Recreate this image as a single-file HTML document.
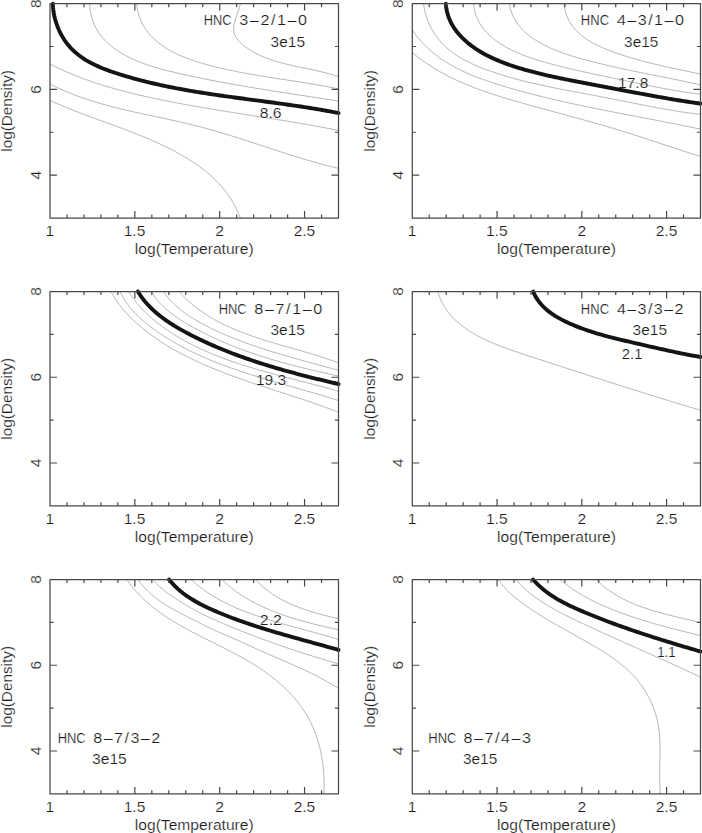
<!DOCTYPE html><html><head><meta charset="utf-8"><style>html,body{margin:0;padding:0;background:#fff;}svg{display:block;}text{font-family:"Liberation Sans",sans-serif;fill:#1c1c1c;stroke:#fff;stroke-width:0.18px;}</style></head><body>
<svg width="702" height="833" viewBox="0 0 702 833">
<rect width="702" height="833" fill="#fff"/>
<g fill="none" stroke-linecap="round" stroke-linejoin="round">
<path d="M89.67,3.60 L89.68,4.18 L89.78,6.35 L89.96,8.49 L90.23,10.59 L90.57,12.65 L90.99,14.68 L91.48,16.68 L92.04,18.63 L92.67,20.55 L93.37,22.43 L94.13,24.26 L94.96,26.06 L95.85,27.82 L96.80,29.53 L97.81,31.20 L98.87,32.84 L99.98,34.42 L101.15,35.97 L102.37,37.47 L103.64,38.93 L104.95,40.35 L106.31,41.73 L107.71,43.07 L109.14,44.37 L110.62,45.63 L112.13,46.85 L113.68,48.04 L115.26,49.19 L116.87,50.31 L118.51,51.40 L120.17,52.45 L121.86,53.47 L123.57,54.46 L125.31,55.41 L127.06,56.34 L128.83,57.24 L130.62,58.12 L132.43,58.96 L134.25,59.79 L136.09,60.58 L137.95,61.35 L139.82,62.10 L141.70,62.83 L143.60,63.53 L145.51,64.22 L147.43,64.88 L149.37,65.53 L151.31,66.15 L153.26,66.76 L155.22,67.35 L157.19,67.93 L159.17,68.49 L161.15,69.04 L163.14,69.57 L165.13,70.10 L167.13,70.61 L169.13,71.11 L171.13,71.60 L173.14,72.08 L175.14,72.55 L177.15,73.02 L179.16,73.47 L181.16,73.93 L183.16,74.38 L185.17,74.82 L187.16,75.26 L189.16,75.69 L191.16,76.12 L193.15,76.55 L195.14,76.97 L197.13,77.38 L199.12,77.80 L201.11,78.21 L203.10,78.61 L205.08,79.01 L207.07,79.41 L209.05,79.80 L211.03,80.19 L213.01,80.57 L214.99,80.96 L216.96,81.33 L218.94,81.71 L220.92,82.08 L222.89,82.45 L224.87,82.81 L226.84,83.18 L228.81,83.54 L230.79,83.89 L232.76,84.25 L234.73,84.60 L236.70,84.94 L238.67,85.29 L240.64,85.63 L242.61,85.97 L244.58,86.31 L246.55,86.65 L248.52,86.98 L250.49,87.31 L252.46,87.64 L254.43,87.97 L256.40,88.29 L258.37,88.62 L260.34,88.94 L262.31,89.26 L264.28,89.58 L266.25,89.90 L268.22,90.21 L270.19,90.53 L272.17,90.84 L274.14,91.15 L276.11,91.46 L278.09,91.77 L280.06,92.08 L282.04,92.39 L284.02,92.70 L286.00,93.00 L287.98,93.31 L289.96,93.61 L291.94,93.92 L293.92,94.22 L295.91,94.53 L297.89,94.83 L299.88,95.14 L301.87,95.44 L303.86,95.74 L305.85,96.05 L307.85,96.35 L309.84,96.66 L311.84,96.96 L313.84,97.26 L315.84,97.57 L317.84,97.88 L319.85,98.18 L321.85,98.49 L323.86,98.80 L325.87,99.11 L327.89,99.42 L329.90,99.73 L331.92,100.04 L333.94,100.35 L335.96,100.67 L337.99,100.98 L338.50,101.06" stroke="#b5b5b5" stroke-width="1.0"/>
<path d="M136.77,3.60 L136.81,4.25 L137.05,6.45 L137.37,8.60 L137.76,10.70 L138.23,12.75 L138.78,14.74 L139.39,16.69 L140.07,18.59 L140.82,20.44 L141.64,22.24 L142.51,23.99 L143.45,25.70 L144.45,27.36 L145.50,28.98 L146.61,30.56 L147.77,32.09 L148.98,33.58 L150.24,35.03 L151.55,36.44 L152.90,37.81 L154.29,39.15 L155.72,40.44 L157.19,41.70 L158.70,42.92 L160.24,44.10 L161.82,45.25 L163.43,46.37 L165.07,47.46 L166.75,48.51 L168.45,49.53 L170.18,50.52 L171.94,51.48 L173.72,52.41 L175.53,53.31 L177.36,54.19 L179.21,55.04 L181.08,55.86 L182.97,56.66 L184.88,57.43 L186.80,58.18 L188.74,58.91 L190.69,59.62 L192.65,60.30 L194.62,60.97 L196.61,61.61 L198.60,62.24 L200.60,62.85 L202.60,63.45 L204.61,64.02 L206.62,64.59 L208.63,65.13 L210.64,65.67 L212.66,66.19 L214.67,66.70 L216.67,67.20 L218.68,67.68 L220.68,68.16 L222.68,68.62 L224.68,69.08 L226.67,69.52 L228.67,69.95 L230.66,70.38 L232.65,70.79 L234.64,71.20 L236.63,71.60 L238.62,71.99 L240.60,72.38 L242.59,72.75 L244.57,73.12 L246.55,73.48 L248.53,73.84 L250.51,74.19 L252.49,74.54 L254.47,74.88 L256.44,75.21 L258.42,75.54 L260.40,75.87 L262.37,76.19 L264.35,76.51 L266.32,76.82 L268.30,77.13 L270.27,77.44 L272.25,77.75 L274.23,78.05 L276.20,78.36 L278.18,78.66 L280.15,78.96 L282.13,79.26 L284.11,79.56 L286.08,79.86 L288.06,80.16 L290.04,80.46 L292.02,80.77 L294.00,81.07 L295.98,81.38 L297.97,81.68 L299.95,82.00 L301.93,82.31 L303.92,82.62 L305.91,82.94 L307.90,83.27 L309.89,83.60 L311.88,83.93 L313.88,84.26 L315.87,84.61 L317.87,84.95 L319.87,85.31 L321.87,85.67 L323.88,86.03 L325.89,86.41 L327.90,86.79 L329.91,87.17 L331.92,87.57 L333.94,87.97 L335.96,88.38 L337.98,88.80 L338.50,88.91" stroke="#b5b5b5" stroke-width="1.0"/>
<path d="M240.33,3.60 L240.31,3.80 L239.92,5.67 L239.40,7.61 L238.77,9.61 L238.06,11.65 L237.31,13.72 L236.56,15.81 L235.84,17.92 L235.17,20.03 L234.60,22.12 L234.13,24.19 L233.80,26.23 L233.64,28.23 L233.67,30.17 L233.91,32.04 L234.39,33.84 L235.08,35.56 L235.97,37.21 L237.03,38.79 L238.23,40.31 L239.57,41.76 L241.00,43.15 L242.52,44.49 L244.09,45.77 L245.70,46.99 L247.33,48.17 L249.00,49.30 L250.69,50.38 L252.40,51.42 L254.14,52.41 L255.91,53.37 L257.70,54.28 L259.51,55.15 L261.34,55.98 L263.19,56.78 L265.06,57.55 L266.94,58.28 L268.85,58.99 L270.76,59.66 L272.70,60.30 L274.64,60.92 L276.60,61.52 L278.58,62.09 L280.56,62.64 L282.55,63.17 L284.55,63.69 L286.56,64.18 L288.57,64.67 L290.59,65.13 L292.62,65.59 L294.65,66.04 L296.68,66.48 L298.71,66.91 L300.75,67.34 L302.78,67.76 L304.81,68.18 L306.84,68.60 L308.87,69.02 L310.89,69.45 L312.90,69.87 L314.91,70.31 L316.91,70.75 L318.91,71.20 L320.89,71.66 L322.86,72.14 L324.82,72.63 L326.77,73.13 L328.71,73.65 L330.63,74.19 L332.53,74.75 L334.42,75.33 L336.29,75.94 L338.15,76.57 L338.50,76.69" stroke="#b5b5b5" stroke-width="1.0"/>
<path d="M50.00,64.09 L51.61,64.91 L53.44,65.82 L55.28,66.71 L57.12,67.59 L58.96,68.46 L60.81,69.31 L62.66,70.15 L64.51,70.98 L66.36,71.80 L68.22,72.60 L70.09,73.39 L71.95,74.16 L73.82,74.93 L75.69,75.68 L77.57,76.42 L79.45,77.15 L81.33,77.87 L83.22,78.57 L85.10,79.27 L86.99,79.95 L88.89,80.62 L90.78,81.29 L92.68,81.94 L94.59,82.58 L96.49,83.21 L98.40,83.84 L100.31,84.45 L102.22,85.05 L104.14,85.65 L106.05,86.23 L107.98,86.81 L109.90,87.38 L111.82,87.94 L113.75,88.49 L115.68,89.03 L117.62,89.57 L119.55,90.10 L121.49,90.62 L123.43,91.13 L125.37,91.64 L127.31,92.14 L129.26,92.63 L131.21,93.11 L133.16,93.59 L135.11,94.07 L137.07,94.53 L139.02,95.00 L140.98,95.45 L142.94,95.90 L144.90,96.35 L146.87,96.79 L148.83,97.22 L150.80,97.65 L152.77,98.08 L154.74,98.50 L156.71,98.92 L158.68,99.33 L160.66,99.74 L162.64,100.15 L164.61,100.55 L166.59,100.94 L168.57,101.34 L170.56,101.73 L172.54,102.11 L174.52,102.50 L176.51,102.87 L178.50,103.25 L180.49,103.62 L182.48,103.99 L184.47,104.36 L186.46,104.72 L188.45,105.08 L190.44,105.44 L192.44,105.79 L194.43,106.14 L196.43,106.49 L198.43,106.84 L200.42,107.19 L202.42,107.53 L204.42,107.87 L206.42,108.21 L208.42,108.54 L210.42,108.88 L212.43,109.21 L214.43,109.54 L216.43,109.87 L218.43,110.20 L220.44,110.52 L222.44,110.85 L224.45,111.17 L226.45,111.49 L228.46,111.81 L230.46,112.13 L232.47,112.45 L234.47,112.77 L236.48,113.09 L238.48,113.40 L240.49,113.72 L242.49,114.03 L244.50,114.35 L246.50,114.66 L248.51,114.98 L250.52,115.29 L252.52,115.61 L254.52,115.92 L256.53,116.23 L258.53,116.55 L260.54,116.86 L262.54,117.18 L264.54,117.49 L266.55,117.81 L268.55,118.13 L270.55,118.45 L272.55,118.76 L274.55,119.08 L276.55,119.40 L278.55,119.73 L280.55,120.05 L282.55,120.37 L284.54,120.70 L286.54,121.03 L288.53,121.35 L290.53,121.69 L292.52,122.02 L294.51,122.35 L296.50,122.69 L298.49,123.02 L300.48,123.36 L302.47,123.71 L304.46,124.05 L306.44,124.40 L308.43,124.75 L310.41,125.10 L312.39,125.45 L314.37,125.81 L316.35,126.17 L318.33,126.53 L320.31,126.90 L322.28,127.26 L324.25,127.64 L326.22,128.01 L328.19,128.39 L330.16,128.77 L332.13,129.16 L334.09,129.55 L336.06,129.94 L338.02,130.34 L338.50,130.43" stroke="#b5b5b5" stroke-width="1.0"/>
<path d="M50.00,84.08 L51.67,84.92 L53.53,85.84 L55.39,86.74 L57.26,87.62 L59.13,88.48 L61.00,89.33 L62.88,90.16 L64.76,90.97 L66.64,91.76 L68.52,92.54 L70.41,93.30 L72.30,94.05 L74.19,94.78 L76.08,95.50 L77.98,96.21 L79.88,96.90 L81.78,97.57 L83.69,98.23 L85.59,98.88 L87.50,99.52 L89.41,100.14 L91.33,100.76 L93.24,101.36 L95.16,101.95 L97.08,102.52 L99.00,103.09 L100.92,103.65 L102.85,104.20 L104.77,104.74 L106.70,105.27 L108.63,105.79 L110.56,106.30 L112.50,106.80 L114.43,107.30 L116.37,107.79 L118.30,108.27 L120.24,108.75 L122.18,109.22 L124.13,109.68 L126.07,110.14 L128.01,110.59 L129.96,111.04 L131.91,111.48 L133.86,111.92 L135.80,112.36 L137.75,112.79 L139.71,113.22 L141.66,113.64 L143.61,114.07 L145.56,114.49 L147.52,114.91 L149.47,115.33 L151.43,115.74 L153.38,116.16 L155.34,116.58 L157.30,116.99 L159.26,117.41 L161.22,117.83 L163.17,118.25 L165.13,118.67 L167.09,119.09 L169.05,119.52 L171.01,119.94 L172.97,120.37 L174.93,120.81 L176.89,121.24 L178.85,121.68 L180.81,122.13 L182.77,122.58 L184.73,123.03 L186.69,123.49 L188.65,123.96 L190.61,124.43 L192.57,124.91 L194.53,125.40 L196.48,125.89 L198.44,126.39 L200.40,126.90 L202.35,127.41 L204.31,127.93 L206.27,128.47 L208.22,129.00 L210.17,129.55 L212.13,130.10 L214.08,130.66 L216.03,131.22 L217.99,131.79 L219.94,132.36 L221.89,132.94 L223.84,133.53 L225.79,134.12 L227.74,134.71 L229.69,135.31 L231.64,135.92 L233.58,136.52 L235.53,137.14 L237.48,137.75 L239.42,138.37 L241.37,138.99 L243.32,139.61 L245.26,140.24 L247.20,140.86 L249.15,141.49 L251.09,142.12 L253.03,142.76 L254.98,143.39 L256.92,144.03 L258.86,144.66 L260.80,145.30 L262.74,145.93 L264.68,146.57 L266.62,147.21 L268.56,147.84 L270.50,148.47 L272.43,149.11 L274.37,149.74 L276.31,150.37 L278.25,151.00 L280.18,151.63 L282.12,152.25 L284.05,152.87 L285.99,153.49 L287.92,154.11 L289.85,154.72 L291.79,155.33 L293.72,155.94 L295.65,156.54 L297.58,157.14 L299.51,157.73 L301.44,158.32 L303.37,158.90 L305.30,159.48 L307.23,160.05 L309.16,160.62 L311.09,161.18 L313.02,161.73 L314.94,162.28 L316.87,162.82 L318.80,163.36 L320.72,163.88 L322.65,164.40 L324.57,164.92 L326.50,165.42 L328.42,165.92 L330.35,166.40 L332.27,166.88 L334.19,167.35 L336.11,167.81 L338.04,168.27 L338.50,168.37" stroke="#b5b5b5" stroke-width="1.0"/>
<path d="M50.00,100.47 L51.68,101.23 L53.51,102.05 L55.34,102.86 L57.18,103.66 L59.02,104.45 L60.87,105.24 L62.72,106.01 L64.58,106.78 L66.44,107.55 L68.31,108.30 L70.17,109.05 L72.05,109.79 L73.92,110.53 L75.80,111.26 L77.68,111.99 L79.57,112.72 L81.46,113.43 L83.35,114.15 L85.24,114.86 L87.13,115.57 L89.03,116.27 L90.93,116.98 L92.83,117.68 L94.73,118.38 L96.63,119.07 L98.54,119.77 L100.44,120.47 L102.35,121.16 L104.26,121.86 L106.16,122.55 L108.07,123.25 L109.98,123.95 L111.89,124.65 L113.79,125.35 L115.70,126.05 L117.61,126.75 L119.51,127.46 L121.41,128.17 L123.32,128.88 L125.22,129.60 L127.12,130.32 L129.02,131.05 L130.91,131.78 L132.81,132.52 L134.70,133.26 L136.59,134.01 L138.48,134.76 L140.36,135.52 L142.25,136.29 L144.13,137.06 L146.00,137.84 L147.87,138.63 L149.74,139.43 L151.61,140.24 L153.47,141.05 L155.32,141.88 L157.18,142.71 L159.02,143.56 L160.87,144.41 L162.71,145.28 L164.54,146.15 L166.37,147.04 L168.19,147.94 L170.01,148.85 L171.82,149.78 L173.62,150.72 L175.42,151.67 L177.21,152.63 L178.99,153.61 L180.76,154.60 L182.52,155.60 L184.27,156.63 L186.01,157.66 L187.74,158.71 L189.45,159.78 L191.15,160.87 L192.84,161.97 L194.52,163.08 L196.18,164.22 L197.82,165.37 L199.45,166.54 L201.06,167.73 L202.65,168.94 L204.23,170.16 L205.79,171.41 L207.32,172.67 L208.84,173.96 L210.34,175.27 L211.82,176.59 L213.28,177.94 L214.71,179.31 L216.12,180.70 L217.51,182.11 L218.87,183.55 L220.21,185.01 L221.53,186.49 L222.81,187.99 L224.08,189.52 L225.31,191.08 L226.52,192.65 L227.70,194.26 L228.85,195.88 L229.97,197.54 L231.06,199.22 L232.12,200.92 L233.15,202.66 L234.14,204.42 L235.11,206.20 L236.04,208.02 L236.93,209.86 L237.80,211.73 L238.62,213.63 L239.42,215.56 L240.17,217.52 L240.35,218.00" stroke="#b5b5b5" stroke-width="1.0"/>
<path d="M52.90,3.60 L52.90,3.95 L52.97,5.93 L53.11,7.92 L53.31,9.92 L53.59,11.92 L53.92,13.93 L54.33,15.94 L54.79,17.95 L55.32,19.95 L55.91,21.94 L56.55,23.91 L57.26,25.87 L58.02,27.81 L58.83,29.72 L59.70,31.61 L60.63,33.47 L61.60,35.29 L62.62,37.07 L63.69,38.82 L64.81,40.52 L65.97,42.17 L67.18,43.77 L68.44,45.32 L69.73,46.82 L71.06,48.27 L72.44,49.67 L73.85,51.02 L75.30,52.33 L76.78,53.59 L78.30,54.82 L79.85,56.00 L81.43,57.14 L83.04,58.24 L84.68,59.30 L86.34,60.33 L88.04,61.33 L89.76,62.29 L91.50,63.22 L93.26,64.11 L95.04,64.98 L96.85,65.82 L98.67,66.64 L100.51,67.43 L102.36,68.20 L104.23,68.94 L106.11,69.66 L108.00,70.37 L109.91,71.05 L111.82,71.72 L113.74,72.37 L115.67,73.01 L117.60,73.64 L119.53,74.25 L121.47,74.85 L123.41,75.45 L125.35,76.03 L127.29,76.61 L129.24,77.17 L131.18,77.73 L133.13,78.27 L135.09,78.81 L137.04,79.34 L138.99,79.86 L140.95,80.37 L142.91,80.87 L144.87,81.37 L146.83,81.86 L148.80,82.34 L150.76,82.81 L152.73,83.27 L154.70,83.73 L156.67,84.17 L158.64,84.62 L160.62,85.05 L162.59,85.48 L164.57,85.90 L166.55,86.31 L168.52,86.72 L170.51,87.12 L172.49,87.51 L174.47,87.90 L176.45,88.29 L178.44,88.66 L180.43,89.03 L182.41,89.40 L184.40,89.76 L186.39,90.11 L188.38,90.46 L190.38,90.81 L192.37,91.15 L194.36,91.49 L196.36,91.82 L198.35,92.14 L200.35,92.47 L202.35,92.79 L204.34,93.10 L206.34,93.41 L208.34,93.72 L210.34,94.02 L212.34,94.32 L214.34,94.62 L216.34,94.92 L218.35,95.21 L220.35,95.50 L222.35,95.78 L224.35,96.07 L226.36,96.35 L228.36,96.63 L230.36,96.91 L232.37,97.18 L234.37,97.46 L236.38,97.73 L238.38,98.00 L240.39,98.27 L242.39,98.54 L244.40,98.80 L246.40,99.07 L248.41,99.34 L250.41,99.60 L252.42,99.87 L254.42,100.13 L256.42,100.40 L258.43,100.66 L260.43,100.93 L262.44,101.19 L264.44,101.46 L266.44,101.72 L268.44,101.99 L270.45,102.26 L272.45,102.53 L274.45,102.80 L276.45,103.07 L278.45,103.34 L280.45,103.62 L282.45,103.89 L284.45,104.17 L286.44,104.45 L288.44,104.73 L290.44,105.02 L292.43,105.31 L294.42,105.60 L296.42,105.89 L298.41,106.19 L300.40,106.48 L302.39,106.79 L304.38,107.09 L306.37,107.40 L308.36,107.71 L310.34,108.03 L312.33,108.35 L314.31,108.68 L316.29,109.00 L318.27,109.34 L320.25,109.68 L322.23,110.02 L324.21,110.36 L326.18,110.72 L328.16,111.07 L330.13,111.44 L332.10,111.81 L334.07,112.18 L336.04,112.56 L338.01,112.94 L338.50,113.04" stroke="#141414" stroke-width="3.9"/>
</g>
<rect x="50.0" y="3.6" width="288.5" height="214.4" fill="none" stroke="#484848" stroke-width="1.25" stroke-linejoin="round"/>
<path d="M66.97,218.0v-3.6M66.97,3.6v3.6M83.94,218.0v-3.6M83.94,3.6v3.6M100.91,218.0v-3.6M100.91,3.6v3.6M117.88,218.0v-3.6M117.88,3.6v3.6M134.85,218.0v-7.0M134.85,3.6v7.0M151.82,218.0v-3.6M151.82,3.6v3.6M168.79,218.0v-3.6M168.79,3.6v3.6M185.76,218.0v-3.6M185.76,3.6v3.6M202.74,218.0v-3.6M202.74,3.6v3.6M219.71,218.0v-7.0M219.71,3.6v7.0M236.68,218.0v-3.6M236.68,3.6v3.6M253.65,218.0v-3.6M253.65,3.6v3.6M270.62,218.0v-3.6M270.62,3.6v3.6M287.59,218.0v-3.6M287.59,3.6v3.6M304.56,218.0v-7.0M304.56,3.6v7.0M321.53,218.0v-3.6M321.53,3.6v3.6M50.0,175.12h7.0M338.5,175.12h-7.0M50.0,132.24h3.6M338.5,132.24h-3.6M50.0,89.36h7.0M338.5,89.36h-7.0M50.0,46.48h3.6M338.5,46.48h-3.6" stroke="#484848" stroke-width="1.2" fill="none"/>
<text transform="translate(45.41,236.10) scale(1.080,1)" font-size="14.4">1</text>
<text transform="translate(123.73,236.10) scale(1.080,1)" font-size="14.4">1.5</text>
<text transform="translate(215.35,236.10) scale(1.080,1)" font-size="14.4">2</text>
<text transform="translate(293.67,236.10) scale(1.080,1)" font-size="14.4">2.5</text>
<text transform="translate(40.70,179.40) rotate(-90) scale(1.080,1)" font-size="14.4">4</text>
<text transform="translate(40.70,93.71) rotate(-90) scale(1.080,1)" font-size="14.4">6</text>
<text transform="translate(40.70,7.88) rotate(-90) scale(1.080,1)" font-size="14.4">8</text>
<text transform="translate(134.81,254.20) scale(1.085,1)" font-size="14.4">log(Temperature)</text>
<text transform="translate(12.30,151.77) rotate(-90) scale(1.064,1)" font-size="14.4">log(Density)</text>
<text transform="translate(203.67,25.10) scale(0.891,1)" font-size="14.4">HNC</text>
<text transform="translate(239.35,25.10) scale(1.120,1)" font-size="14.4" letter-spacing="1.394">3–2/1–0</text>
<text transform="translate(270.58,46.80) scale(1.074,1)" font-size="14.4">3e15</text>
<text transform="translate(259.67,117.80) scale(1.092,1)" font-size="14.4">8.6</text>
<g fill="none" stroke-linecap="round" stroke-linejoin="round">
<path d="M412.30,52.68 L412.51,52.86 L414.12,54.17 L415.75,55.46 L417.38,56.73 L419.02,57.98 L420.68,59.21 L422.34,60.41 L424.01,61.60 L425.69,62.76 L427.37,63.90 L429.07,65.02 L430.77,66.12 L432.48,67.20 L434.20,68.27 L435.93,69.31 L437.67,70.33 L439.41,71.34 L441.16,72.33 L442.92,73.30 L444.68,74.26 L446.46,75.19 L448.24,76.11 L450.02,77.02 L451.81,77.91 L453.61,78.78 L455.42,79.64 L457.23,80.49 L459.05,81.32 L460.87,82.13 L462.70,82.93 L464.54,83.72 L466.38,84.50 L468.22,85.26 L470.07,86.01 L471.93,86.75 L473.79,87.48 L475.66,88.20 L477.53,88.90 L479.41,89.60 L481.29,90.28 L483.17,90.96 L485.06,91.62 L486.95,92.28 L488.85,92.93 L490.75,93.56 L492.66,94.20 L494.56,94.82 L496.48,95.43 L498.39,96.04 L500.31,96.64 L502.23,97.24 L504.15,97.83 L506.08,98.41 L508.01,98.99 L509.94,99.56 L511.87,100.13 L513.81,100.70 L515.74,101.26 L517.68,101.82 L519.63,102.37 L521.57,102.92 L523.51,103.47 L525.46,104.01 L527.41,104.56 L529.35,105.10 L531.30,105.64 L533.25,106.18 L535.21,106.72 L537.16,107.25 L539.11,107.79 L541.07,108.32 L543.02,108.86 L544.98,109.39 L546.94,109.92 L548.89,110.45 L550.85,110.98 L552.81,111.51 L554.77,112.04 L556.73,112.57 L558.69,113.10 L560.65,113.63 L562.61,114.16 L564.58,114.70 L566.54,115.23 L568.50,115.76 L570.46,116.29 L572.43,116.83 L574.39,117.36 L576.35,117.90 L578.31,118.44 L580.28,118.98 L582.24,119.52 L584.20,120.06 L586.17,120.60 L588.13,121.15 L590.09,121.70 L592.05,122.25 L594.01,122.80 L595.98,123.36 L597.94,123.91 L599.90,124.48 L601.86,125.04 L603.82,125.60 L605.78,126.17 L607.73,126.75 L609.69,127.32 L611.65,127.90 L613.60,128.48 L615.56,129.07 L617.51,129.66 L619.47,130.25 L621.42,130.85 L623.37,131.45 L625.32,132.06 L627.27,132.67 L629.22,133.28 L631.16,133.90 L633.11,134.52 L635.05,135.14 L637.00,135.77 L638.94,136.40 L640.88,137.03 L642.82,137.66 L644.75,138.29 L646.69,138.93 L648.62,139.57 L650.55,140.20 L652.49,140.84 L654.41,141.48 L656.34,142.12 L658.27,142.76 L660.19,143.40 L662.11,144.04 L664.03,144.68 L665.95,145.31 L667.86,145.95 L669.78,146.58 L671.69,147.21 L673.60,147.84 L675.50,148.47 L677.41,149.09 L679.31,149.71 L681.21,150.33 L683.10,150.95 L685.00,151.56 L686.89,152.17 L688.78,152.77 L690.67,153.37 L692.55,153.96 L694.43,154.55 L696.31,155.13 L698.19,155.71 L700.06,156.29 L700.50,156.42" stroke="#b5b5b5" stroke-width="1.0"/>
<path d="M412.30,29.95 L412.54,30.32 L413.73,32.05 L414.94,33.75 L416.18,35.41 L417.45,37.03 L418.74,38.62 L420.05,40.17 L421.39,41.69 L422.75,43.18 L424.14,44.64 L425.54,46.06 L426.97,47.45 L428.43,48.82 L429.90,50.15 L431.39,51.45 L432.91,52.72 L434.44,53.97 L435.99,55.18 L437.57,56.37 L439.16,57.54 L440.76,58.67 L442.39,59.79 L444.03,60.87 L445.69,61.93 L447.37,62.97 L449.06,63.99 L450.77,64.98 L452.49,65.95 L454.22,66.90 L455.97,67.83 L457.73,68.74 L459.51,69.62 L461.30,70.49 L463.09,71.34 L464.90,72.18 L466.73,72.99 L468.56,73.79 L470.40,74.57 L472.25,75.34 L474.11,76.09 L475.98,76.82 L477.86,77.55 L479.74,78.26 L481.63,78.95 L483.53,79.63 L485.44,80.31 L487.35,80.97 L489.26,81.62 L491.18,82.26 L493.11,82.89 L495.04,83.51 L496.97,84.13 L498.90,84.73 L500.84,85.33 L502.78,85.92 L504.72,86.51 L506.66,87.09 L508.61,87.67 L510.55,88.24 L512.50,88.80 L514.45,89.36 L516.40,89.91 L518.35,90.46 L520.30,91.00 L522.26,91.53 L524.21,92.06 L526.17,92.59 L528.13,93.11 L530.09,93.63 L532.05,94.14 L534.01,94.64 L535.97,95.15 L537.94,95.64 L539.90,96.14 L541.87,96.62 L543.84,97.11 L545.80,97.59 L547.77,98.06 L549.74,98.53 L551.71,99.00 L553.69,99.47 L555.66,99.93 L557.63,100.38 L559.61,100.83 L561.58,101.28 L563.56,101.73 L565.53,102.17 L567.51,102.61 L569.49,103.04 L571.47,103.48 L573.45,103.91 L575.43,104.33 L577.41,104.76 L579.39,105.18 L581.37,105.60 L583.35,106.01 L585.33,106.43 L587.31,106.84 L589.30,107.24 L591.28,107.65 L593.26,108.05 L595.25,108.46 L597.23,108.86 L599.21,109.25 L601.20,109.65 L603.18,110.05 L605.17,110.44 L607.15,110.83 L609.14,111.22 L611.12,111.61 L613.11,112.00 L615.09,112.38 L617.08,112.77 L619.06,113.15 L621.05,113.53 L623.03,113.91 L625.01,114.30 L627.00,114.68 L628.98,115.06 L630.97,115.44 L632.95,115.81 L634.93,116.19 L636.92,116.57 L638.90,116.95 L640.88,117.33 L642.86,117.71 L644.84,118.08 L646.82,118.46 L648.80,118.84 L650.78,119.22 L652.76,119.60 L654.74,119.98 L656.72,120.36 L658.69,120.74 L660.67,121.12 L662.65,121.51 L664.62,121.89 L666.59,122.27 L668.57,122.66 L670.54,123.05 L672.51,123.44 L674.48,123.83 L676.45,124.22 L678.42,124.61 L680.39,125.00 L682.36,125.40 L684.32,125.80 L686.29,126.20 L688.25,126.60 L690.21,127.00 L692.17,127.41 L694.13,127.82 L696.09,128.23 L698.05,128.64 L700.01,129.06 L700.50,129.16" stroke="#b5b5b5" stroke-width="1.0"/>
<path d="M423.58,3.60 L423.63,4.10 L423.92,6.22 L424.27,8.30 L424.68,10.36 L425.15,12.40 L425.67,14.40 L426.26,16.38 L426.90,18.32 L427.60,20.24 L428.35,22.12 L429.15,23.97 L430.01,25.80 L430.91,27.59 L431.86,29.34 L432.86,31.07 L433.91,32.76 L435.01,34.42 L436.14,36.04 L437.32,37.63 L438.54,39.18 L439.80,40.70 L441.11,42.18 L442.44,43.62 L443.82,45.03 L445.23,46.39 L446.67,47.73 L448.15,49.02 L449.66,50.27 L451.20,51.49 L452.77,52.67 L454.37,53.81 L455.99,54.93 L457.64,56.01 L459.32,57.06 L461.02,58.07 L462.73,59.06 L464.48,60.02 L466.23,60.96 L468.01,61.86 L469.81,62.75 L471.62,63.60 L473.44,64.44 L475.28,65.25 L477.14,66.04 L479.00,66.82 L480.87,67.57 L482.75,68.31 L484.64,69.03 L486.53,69.74 L488.43,70.43 L490.33,71.10 L492.24,71.77 L494.15,72.42 L496.06,73.06 L497.98,73.69 L499.89,74.31 L501.82,74.91 L503.74,75.51 L505.67,76.09 L507.60,76.66 L509.54,77.22 L511.47,77.78 L513.41,78.32 L515.35,78.85 L517.30,79.38 L519.25,79.89 L521.20,80.40 L523.15,80.89 L525.11,81.38 L527.06,81.87 L529.02,82.34 L530.99,82.81 L532.95,83.27 L534.92,83.72 L536.89,84.17 L538.86,84.61 L540.83,85.04 L542.81,85.47 L544.78,85.89 L546.76,86.31 L548.74,86.73 L550.72,87.13 L552.71,87.54 L554.69,87.94 L556.68,88.34 L558.67,88.73 L560.66,89.12 L562.65,89.51 L564.64,89.89 L566.64,90.27 L568.63,90.65 L570.63,91.03 L572.62,91.41 L574.62,91.79 L576.62,92.16 L578.62,92.53 L580.62,92.91 L582.62,93.28 L584.62,93.65 L586.63,94.03 L588.63,94.40 L590.63,94.78 L592.64,95.15 L594.64,95.53 L596.65,95.91 L598.65,96.29 L600.66,96.68 L602.67,97.06 L604.67,97.45 L606.68,97.84 L608.69,98.24 L610.69,98.63 L612.70,99.03 L614.70,99.43 L616.71,99.82 L618.71,100.22 L620.72,100.62 L622.72,101.02 L624.73,101.42 L626.73,101.82 L628.74,102.22 L630.74,102.62 L632.74,103.02 L634.74,103.42 L636.74,103.81 L638.74,104.21 L640.74,104.60 L642.74,104.99 L644.74,105.38 L646.73,105.76 L648.73,106.14 L650.72,106.52 L652.71,106.90 L654.70,107.27 L656.69,107.64 L658.68,108.01 L660.67,108.37 L662.65,108.72 L664.64,109.08 L666.62,109.42 L668.60,109.77 L670.58,110.10 L672.55,110.44 L674.53,110.76 L676.50,111.08 L678.47,111.40 L680.44,111.70 L682.41,112.00 L684.37,112.30 L686.33,112.58 L688.29,112.86 L690.25,113.13 L692.21,113.40 L694.16,113.65 L696.11,113.90 L698.06,114.14 L700.00,114.37 L700.50,114.42" stroke="#b5b5b5" stroke-width="1.0"/>
<path d="M473.48,3.60 L473.53,4.21 L473.80,6.35 L474.15,8.44 L474.59,10.47 L475.10,12.45 L475.70,14.38 L476.37,16.27 L477.11,18.10 L477.93,19.88 L478.81,21.62 L479.76,23.31 L480.77,24.96 L481.85,26.56 L482.98,28.11 L484.17,29.63 L485.41,31.10 L486.71,32.53 L488.06,33.92 L489.45,35.27 L490.89,36.58 L492.37,37.86 L493.89,39.10 L495.44,40.30 L497.04,41.47 L498.66,42.60 L500.32,43.70 L502.00,44.77 L503.71,45.80 L505.45,46.81 L507.21,47.79 L508.98,48.73 L510.78,49.65 L512.60,50.54 L514.44,51.41 L516.29,52.25 L518.16,53.07 L520.05,53.86 L521.95,54.63 L523.86,55.38 L525.79,56.10 L527.73,56.81 L529.68,57.50 L531.64,58.17 L533.60,58.82 L535.58,59.46 L537.56,60.08 L539.55,60.68 L541.54,61.27 L543.54,61.85 L545.54,62.42 L547.54,62.97 L549.54,63.52 L551.54,64.05 L553.55,64.58 L555.55,65.09 L557.54,65.61 L559.54,66.11 L561.53,66.61 L563.52,67.10 L565.50,67.59 L567.49,68.07 L569.47,68.54 L571.45,69.01 L573.42,69.47 L575.40,69.93 L577.37,70.39 L579.34,70.84 L581.31,71.28 L583.28,71.72 L585.25,72.16 L587.21,72.60 L589.18,73.03 L591.14,73.46 L593.10,73.88 L595.06,74.31 L597.02,74.73 L598.98,75.15 L600.94,75.56 L602.90,75.98 L604.85,76.39 L606.81,76.81 L608.77,77.22 L610.72,77.63 L612.68,78.04 L614.63,78.46 L616.59,78.87 L618.54,79.28 L620.50,79.69 L622.45,80.11 L624.41,80.52 L626.37,80.93 L628.32,81.35 L630.28,81.76 L632.24,82.17 L634.20,82.58 L636.16,82.99 L638.12,83.40 L640.09,83.81 L642.05,84.22 L644.01,84.62 L645.98,85.02 L647.95,85.42 L649.92,85.82 L651.89,86.21 L653.86,86.60 L655.84,86.98 L657.82,87.37 L659.79,87.75 L661.78,88.12 L663.76,88.49 L665.75,88.86 L667.73,89.22 L669.73,89.58 L671.72,89.93 L673.72,90.28 L675.71,90.62 L677.72,90.95 L679.72,91.28 L681.73,91.60 L683.74,91.92 L685.76,92.23 L687.77,92.53 L689.80,92.82 L691.82,93.11 L693.85,93.39 L695.88,93.66 L697.92,93.93 L699.96,94.18 L700.50,94.25" stroke="#b5b5b5" stroke-width="1.0"/>
<path d="M509.44,3.60 L509.52,4.18 L509.87,6.26 L510.32,8.28 L510.86,10.26 L511.47,12.18 L512.17,14.05 L512.95,15.87 L513.80,17.63 L514.73,19.36 L515.72,21.03 L516.78,22.65 L517.91,24.24 L519.09,25.77 L520.34,27.26 L521.64,28.71 L522.99,30.12 L524.40,31.49 L525.85,32.81 L527.35,34.10 L528.88,35.35 L530.46,36.56 L532.08,37.74 L533.72,38.88 L535.40,39.98 L537.11,41.06 L538.84,42.10 L540.60,43.10 L542.37,44.08 L544.17,45.03 L545.99,45.95 L547.83,46.84 L549.69,47.71 L551.56,48.54 L553.45,49.36 L555.35,50.15 L557.27,50.91 L559.20,51.66 L561.15,52.38 L563.10,53.09 L565.06,53.77 L567.04,54.44 L569.02,55.09 L571.00,55.72 L573.00,56.33 L574.99,56.94 L576.99,57.52 L578.99,58.10 L581.00,58.66 L583.00,59.22 L585.00,59.76 L587.00,60.29 L589.00,60.82 L591.00,61.34 L592.99,61.85 L594.98,62.35 L596.97,62.85 L598.95,63.34 L600.94,63.83 L602.92,64.30 L604.90,64.77 L606.87,65.24 L608.85,65.70 L610.82,66.15 L612.79,66.60 L614.77,67.05 L616.74,67.49 L618.70,67.92 L620.67,68.35 L622.64,68.78 L624.60,69.20 L626.57,69.62 L628.54,70.04 L630.50,70.45 L632.46,70.86 L634.43,71.27 L636.39,71.67 L638.36,72.08 L640.32,72.48 L642.29,72.88 L644.25,73.28 L646.22,73.67 L648.18,74.07 L650.15,74.46 L652.12,74.86 L654.09,75.25 L656.06,75.65 L658.03,76.04 L660.01,76.44 L661.98,76.83 L663.96,77.23 L665.94,77.62 L667.92,78.02 L669.90,78.42 L671.89,78.83 L673.88,79.23 L675.87,79.64 L677.86,80.04 L679.85,80.46 L681.85,80.87 L683.85,81.29 L685.86,81.71 L687.86,82.13 L689.87,82.56 L691.89,82.99 L693.90,83.43 L695.92,83.87 L697.95,84.32 L699.98,84.77 L700.50,84.88" stroke="#b5b5b5" stroke-width="1.0"/>
<path d="M564.08,3.60 L564.12,4.25 L564.39,6.44 L564.75,8.56 L565.19,10.62 L565.72,12.61 L566.34,14.55 L567.03,16.43 L567.81,18.25 L568.66,20.01 L569.58,21.72 L570.58,23.37 L571.64,24.97 L572.77,26.52 L573.96,28.02 L575.22,29.48 L576.53,30.88 L577.90,32.24 L579.32,33.56 L580.79,34.83 L582.31,36.06 L583.88,37.25 L585.49,38.40 L587.14,39.52 L588.83,40.59 L590.56,41.64 L592.32,42.64 L594.11,43.62 L595.93,44.57 L597.77,45.48 L599.64,46.37 L601.53,47.23 L603.44,48.07 L605.36,48.88 L607.30,49.67 L609.25,50.43 L611.20,51.18 L613.17,51.91 L615.13,52.62 L617.10,53.31 L619.06,53.99 L621.03,54.65 L623.00,55.30 L624.96,55.94 L626.93,56.56 L628.90,57.17 L630.86,57.76 L632.83,58.35 L634.80,58.92 L636.76,59.48 L638.73,60.03 L640.70,60.56 L642.67,61.09 L644.63,61.61 L646.60,62.12 L648.57,62.62 L650.54,63.11 L652.51,63.59 L654.48,64.07 L656.45,64.54 L658.42,65.00 L660.39,65.45 L662.37,65.90 L664.34,66.35 L666.31,66.79 L668.29,67.22 L670.26,67.65 L672.24,68.08 L674.22,68.50 L676.19,68.92 L678.17,69.34 L680.15,69.76 L682.13,70.17 L684.11,70.58 L686.09,71.00 L688.08,71.41 L690.06,71.82 L692.04,72.24 L694.03,72.65 L696.02,73.07 L698.01,73.48 L700.00,73.90 L700.50,74.01" stroke="#b5b5b5" stroke-width="1.0"/>
<path d="M445.85,3.60 L445.88,4.16 L446.09,6.30 L446.38,8.40 L446.76,10.45 L447.22,12.46 L447.76,14.42 L448.37,16.34 L449.06,18.22 L449.82,20.05 L450.64,21.84 L451.53,23.59 L452.49,25.30 L453.50,26.97 L454.57,28.60 L455.70,30.20 L456.88,31.75 L458.10,33.27 L459.38,34.75 L460.69,36.19 L462.05,37.60 L463.45,38.97 L464.88,40.31 L466.35,41.62 L467.84,42.89 L469.37,44.13 L470.92,45.34 L472.51,46.52 L474.12,47.67 L475.75,48.79 L477.42,49.88 L479.10,50.94 L480.81,51.97 L482.54,52.98 L484.29,53.96 L486.06,54.91 L487.85,55.84 L489.66,56.75 L491.49,57.63 L493.33,58.49 L495.19,59.32 L497.06,60.13 L498.94,60.92 L500.84,61.69 L502.75,62.44 L504.67,63.17 L506.59,63.89 L508.53,64.58 L510.47,65.26 L512.42,65.92 L514.38,66.56 L516.34,67.19 L518.30,67.80 L520.26,68.40 L522.23,68.98 L524.20,69.55 L526.16,70.11 L528.13,70.66 L530.09,71.19 L532.06,71.72 L534.02,72.23 L535.99,72.73 L537.95,73.22 L539.92,73.71 L541.88,74.18 L543.85,74.65 L545.81,75.10 L547.78,75.55 L549.74,75.99 L551.71,76.43 L553.67,76.86 L555.64,77.28 L557.60,77.69 L559.56,78.10 L561.53,78.51 L563.49,78.91 L565.46,79.31 L567.42,79.70 L569.39,80.09 L571.35,80.48 L573.32,80.87 L575.28,81.25 L577.25,81.63 L579.21,82.01 L581.18,82.39 L583.14,82.77 L585.11,83.15 L587.08,83.52 L589.04,83.90 L591.01,84.28 L592.98,84.65 L594.94,85.03 L596.91,85.40 L598.88,85.77 L600.85,86.15 L602.82,86.52 L604.78,86.89 L606.75,87.26 L608.72,87.63 L610.69,88.01 L612.66,88.38 L614.64,88.75 L616.61,89.12 L618.58,89.49 L620.55,89.86 L622.52,90.23 L624.50,90.60 L626.47,90.97 L628.44,91.34 L630.42,91.72 L632.40,92.09 L634.37,92.46 L636.35,92.82 L638.33,93.19 L640.30,93.56 L642.28,93.93 L644.26,94.29 L646.24,94.66 L648.22,95.02 L650.20,95.38 L652.18,95.74 L654.17,96.10 L656.15,96.46 L658.13,96.81 L660.12,97.16 L662.11,97.51 L664.09,97.86 L666.08,98.20 L668.07,98.55 L670.06,98.88 L672.05,99.22 L674.04,99.55 L676.03,99.88 L678.02,100.21 L680.01,100.53 L682.01,100.85 L684.00,101.17 L686.00,101.48 L688.00,101.79 L690.00,102.09 L691.99,102.39 L693.99,102.69 L696.00,102.98 L698.00,103.26 L700.00,103.54 L700.50,103.61" stroke="#141414" stroke-width="3.9"/>
</g>
<rect x="412.3" y="3.6" width="288.2" height="214.4" fill="none" stroke="#484848" stroke-width="1.25" stroke-linejoin="round"/>
<path d="M429.25,218.0v-3.6M429.25,3.6v3.6M446.21,218.0v-3.6M446.21,3.6v3.6M463.16,218.0v-3.6M463.16,3.6v3.6M480.11,218.0v-3.6M480.11,3.6v3.6M497.06,218.0v-7.0M497.06,3.6v7.0M514.02,218.0v-3.6M514.02,3.6v3.6M530.97,218.0v-3.6M530.97,3.6v3.6M547.92,218.0v-3.6M547.92,3.6v3.6M564.88,218.0v-3.6M564.88,3.6v3.6M581.83,218.0v-7.0M581.83,3.6v7.0M598.78,218.0v-3.6M598.78,3.6v3.6M615.74,218.0v-3.6M615.74,3.6v3.6M632.69,218.0v-3.6M632.69,3.6v3.6M649.64,218.0v-3.6M649.64,3.6v3.6M666.59,218.0v-7.0M666.59,3.6v7.0M683.55,218.0v-3.6M683.55,3.6v3.6M412.3,175.12h7.0M700.5,175.12h-7.0M412.3,132.24h3.6M700.5,132.24h-3.6M412.3,89.36h7.0M700.5,89.36h-7.0M412.3,46.48h3.6M700.5,46.48h-3.6" stroke="#484848" stroke-width="1.2" fill="none"/>
<text transform="translate(407.71,236.10) scale(1.080,1)" font-size="14.4">1</text>
<text transform="translate(485.95,236.10) scale(1.080,1)" font-size="14.4">1.5</text>
<text transform="translate(577.47,236.10) scale(1.080,1)" font-size="14.4">2</text>
<text transform="translate(655.71,236.10) scale(1.080,1)" font-size="14.4">2.5</text>
<text transform="translate(403.00,179.40) rotate(-90) scale(1.080,1)" font-size="14.4">4</text>
<text transform="translate(403.00,93.71) rotate(-90) scale(1.080,1)" font-size="14.4">6</text>
<text transform="translate(403.00,7.88) rotate(-90) scale(1.080,1)" font-size="14.4">8</text>
<text transform="translate(497.11,254.20) scale(1.085,1)" font-size="14.4">log(Temperature)</text>
<text transform="translate(374.60,151.77) rotate(-90) scale(1.064,1)" font-size="14.4">log(Density)</text>
<text transform="translate(580.86,25.10) scale(0.904,1)" font-size="14.4">HNC</text>
<text transform="translate(616.88,25.10) scale(1.120,1)" font-size="14.4" letter-spacing="1.316">4–3/1–0</text>
<text transform="translate(624.09,46.90) scale(1.068,1)" font-size="14.4">3e15</text>
<text transform="translate(618.06,87.80) scale(1.080,1)" font-size="14.4">17.8</text>
<g fill="none" stroke-linecap="round" stroke-linejoin="round">
<path d="M110.95,291.50 L111.40,292.32 L112.42,294.11 L113.48,295.86 L114.56,297.59 L115.67,299.29 L116.80,300.97 L117.97,302.62 L119.16,304.25 L120.38,305.85 L121.63,307.44 L122.89,308.99 L124.19,310.53 L125.50,312.04 L126.84,313.53 L128.20,314.99 L129.59,316.44 L130.99,317.87 L132.41,319.27 L133.85,320.66 L135.31,322.02 L136.79,323.37 L138.28,324.69 L139.79,326.00 L141.32,327.29 L142.86,328.56 L144.41,329.82 L145.98,331.06 L147.56,332.28 L149.15,333.48 L150.75,334.67 L152.37,335.85 L153.99,337.00 L155.62,338.15 L157.27,339.28 L158.92,340.39 L160.58,341.49 L162.26,342.58 L163.94,343.65 L165.63,344.71 L167.33,345.75 L169.04,346.79 L170.76,347.80 L172.48,348.81 L174.22,349.80 L175.96,350.78 L177.71,351.75 L179.47,352.71 L181.23,353.65 L183.01,354.59 L184.79,355.51 L186.58,356.42 L188.37,357.32 L190.17,358.21 L191.98,359.09 L193.80,359.96 L195.62,360.81 L197.44,361.66 L199.28,362.50 L201.12,363.33 L202.96,364.15 L204.81,364.96 L206.67,365.77 L208.53,366.56 L210.39,367.34 L212.27,368.12 L214.14,368.89 L216.02,369.65 L217.90,370.41 L219.79,371.15 L221.69,371.89 L223.58,372.63 L225.48,373.35 L227.39,374.07 L229.29,374.79 L231.20,375.49 L233.12,376.20 L235.03,376.89 L236.95,377.58 L238.87,378.27 L240.80,378.95 L242.72,379.63 L244.65,380.30 L246.58,380.97 L248.51,381.63 L250.44,382.29 L252.38,382.94 L254.31,383.60 L256.25,384.24 L258.19,384.89 L260.12,385.53 L262.06,386.17 L264.00,386.81 L265.94,387.45 L267.88,388.08 L269.82,388.71 L271.76,389.34 L273.70,389.97 L275.64,390.60 L277.57,391.23 L279.51,391.86 L281.44,392.48 L283.38,393.11 L285.31,393.73 L287.24,394.36 L289.17,394.99 L291.10,395.61 L293.02,396.24 L294.94,396.87 L296.86,397.50 L298.78,398.13 L300.70,398.76 L302.61,399.40 L304.52,400.04 L306.42,400.68 L308.32,401.32 L310.22,401.96 L312.12,402.61 L314.01,403.26 L315.89,403.91 L317.78,404.57 L319.65,405.23 L321.53,405.90 L323.40,406.57 L325.26,407.24 L327.12,407.92 L328.97,408.61 L330.82,409.29 L332.66,409.99 L334.50,410.69 L336.33,411.39 L338.15,412.10 L338.50,412.24" stroke="#b5b5b5" stroke-width="1.0"/>
<path d="M120.09,291.50 L120.49,292.41 L121.36,294.20 L122.29,295.97 L123.26,297.70 L124.28,299.40 L125.34,301.08 L126.46,302.72 L127.61,304.33 L128.81,305.92 L130.04,307.48 L131.31,309.01 L132.62,310.52 L133.97,312.00 L135.35,313.45 L136.75,314.89 L138.19,316.29 L139.66,317.68 L141.15,319.04 L142.66,320.38 L144.20,321.70 L145.76,323.00 L147.34,324.27 L148.94,325.53 L150.55,326.77 L152.17,327.99 L153.81,329.20 L155.46,330.39 L157.12,331.56 L158.79,332.71 L160.46,333.85 L162.15,334.97 L163.84,336.08 L165.55,337.17 L167.26,338.25 L168.98,339.31 L170.71,340.36 L172.44,341.39 L174.19,342.41 L175.94,343.41 L177.70,344.40 L179.47,345.38 L181.24,346.34 L183.02,347.29 L184.81,348.23 L186.61,349.15 L188.41,350.07 L190.22,350.97 L192.03,351.85 L193.85,352.73 L195.68,353.59 L197.52,354.45 L199.36,355.29 L201.20,356.12 L203.05,356.94 L204.91,357.75 L206.77,358.54 L208.64,359.33 L210.51,360.11 L212.39,360.88 L214.27,361.64 L216.16,362.39 L218.05,363.13 L219.94,363.86 L221.84,364.59 L223.75,365.30 L225.65,366.01 L227.56,366.71 L229.48,367.40 L231.40,368.08 L233.32,368.76 L235.24,369.43 L237.17,370.09 L239.10,370.75 L241.04,371.40 L242.97,372.04 L244.91,372.68 L246.85,373.31 L248.80,373.93 L250.74,374.55 L252.69,375.17 L254.64,375.78 L256.59,376.38 L258.54,376.98 L260.49,377.58 L262.45,378.17 L264.40,378.76 L266.36,379.35 L268.32,379.93 L270.28,380.51 L272.23,381.08 L274.19,381.66 L276.15,382.23 L278.11,382.79 L280.07,383.36 L282.03,383.92 L283.99,384.49 L285.95,385.05 L287.90,385.61 L289.86,386.16 L291.82,386.72 L293.77,387.28 L295.72,387.83 L297.68,388.39 L299.63,388.95 L301.57,389.50 L303.52,390.06 L305.47,390.62 L307.41,391.18 L309.35,391.74 L311.29,392.30 L313.22,392.86 L315.16,393.43 L317.09,393.99 L319.01,394.56 L320.94,395.13 L322.86,395.71 L324.78,396.28 L326.69,396.86 L328.60,397.45 L330.51,398.03 L332.41,398.62 L334.31,399.22 L336.20,399.82 L338.09,400.42 L338.50,400.55" stroke="#b5b5b5" stroke-width="1.0"/>
<path d="M128.63,291.50 L129.10,292.29 L130.16,293.98 L131.26,295.64 L132.39,297.28 L133.55,298.89 L134.76,300.48 L135.99,302.05 L137.26,303.60 L138.55,305.12 L139.88,306.62 L141.23,308.10 L142.61,309.56 L144.02,311.00 L145.45,312.42 L146.91,313.81 L148.39,315.19 L149.89,316.54 L151.41,317.87 L152.94,319.19 L154.50,320.48 L156.07,321.76 L157.66,323.02 L159.26,324.25 L160.87,325.47 L162.50,326.67 L164.13,327.85 L165.78,329.02 L167.44,330.17 L169.11,331.29 L170.79,332.41 L172.48,333.50 L174.18,334.58 L175.88,335.64 L177.60,336.69 L179.33,337.72 L181.07,338.73 L182.81,339.73 L184.57,340.71 L186.33,341.68 L188.10,342.63 L189.88,343.57 L191.67,344.49 L193.47,345.40 L195.27,346.30 L197.09,347.18 L198.91,348.05 L200.73,348.91 L202.57,349.75 L204.41,350.58 L206.25,351.40 L208.11,352.20 L209.97,353.00 L211.84,353.78 L213.71,354.55 L215.59,355.31 L217.47,356.06 L219.36,356.80 L221.26,357.52 L223.16,358.24 L225.06,358.95 L226.97,359.64 L228.89,360.33 L230.81,361.01 L232.73,361.68 L234.66,362.34 L236.59,362.99 L238.53,363.64 L240.47,364.27 L242.41,364.90 L244.35,365.52 L246.30,366.13 L248.26,366.74 L250.21,367.34 L252.17,367.93 L254.13,368.52 L256.09,369.10 L258.05,369.67 L260.02,370.24 L261.98,370.80 L263.95,371.36 L265.92,371.91 L267.89,372.46 L269.86,373.00 L271.84,373.54 L273.81,374.08 L275.78,374.61 L277.76,375.14 L279.73,375.66 L281.70,376.18 L283.68,376.70 L285.65,377.22 L287.62,377.73 L289.59,378.24 L291.56,378.75 L293.53,379.26 L295.50,379.77 L297.47,380.28 L299.43,380.78 L301.39,381.29 L303.35,381.79 L305.31,382.29 L307.27,382.80 L309.22,383.30 L311.17,383.81 L313.12,384.32 L315.07,384.82 L317.01,385.33 L318.94,385.84 L320.88,386.35 L322.81,386.87 L324.74,387.38 L326.66,387.90 L328.58,388.42 L330.49,388.95 L332.40,389.47 L334.30,390.00 L336.20,390.54 L338.09,391.08 L338.50,391.20" stroke="#b5b5b5" stroke-width="1.0"/>
<path d="M151.27,291.50 L151.73,292.29 L152.79,293.97 L153.89,295.61 L155.04,297.21 L156.24,298.78 L157.48,300.31 L158.76,301.81 L160.08,303.28 L161.44,304.71 L162.85,306.11 L164.28,307.48 L165.75,308.83 L167.25,310.14 L168.79,311.42 L170.35,312.68 L171.94,313.92 L173.56,315.13 L175.19,316.31 L176.86,317.48 L178.54,318.62 L180.24,319.74 L181.96,320.84 L183.69,321.92 L185.44,322.98 L187.20,324.03 L188.97,325.06 L190.75,326.08 L192.54,327.08 L194.33,328.07 L196.13,329.04 L197.93,330.00 L199.74,330.95 L201.55,331.89 L203.36,332.82 L205.18,333.73 L207.01,334.63 L208.84,335.52 L210.67,336.40 L212.51,337.27 L214.35,338.12 L216.19,338.97 L218.04,339.80 L219.90,340.63 L221.75,341.44 L223.62,342.24 L225.48,343.03 L227.35,343.81 L229.22,344.58 L231.10,345.34 L232.98,346.09 L234.86,346.83 L236.75,347.57 L238.64,348.29 L240.53,349.00 L242.42,349.70 L244.32,350.40 L246.23,351.08 L248.13,351.76 L250.04,352.43 L251.95,353.09 L253.87,353.74 L255.78,354.39 L257.70,355.02 L259.62,355.65 L261.55,356.27 L263.48,356.88 L265.41,357.49 L267.34,358.08 L269.27,358.68 L271.21,359.26 L273.15,359.84 L275.09,360.41 L277.04,360.97 L278.98,361.53 L280.93,362.08 L282.88,362.62 L284.83,363.16 L286.79,363.70 L288.74,364.22 L290.70,364.74 L292.66,365.26 L294.62,365.77 L296.58,366.28 L298.54,366.78 L300.51,367.28 L302.47,367.77 L304.44,368.25 L306.41,368.74 L308.38,369.22 L310.35,369.69 L312.32,370.16 L314.29,370.63 L316.27,371.09 L318.24,371.55 L320.22,372.00 L322.19,372.46 L324.17,372.91 L326.14,373.35 L328.12,373.80 L330.10,374.24 L332.08,374.68 L334.06,375.11 L336.04,375.55 L338.02,375.98 L338.50,376.08" stroke="#b5b5b5" stroke-width="1.0"/>
<path d="M163.41,291.50 L163.94,292.28 L165.17,294.00 L166.44,295.67 L167.74,297.29 L169.07,298.87 L170.43,300.39 L171.82,301.87 L173.24,303.31 L174.68,304.71 L176.15,306.07 L177.64,307.38 L179.16,308.67 L180.70,309.92 L182.26,311.13 L183.84,312.32 L185.45,313.47 L187.07,314.60 L188.71,315.70 L190.36,316.78 L192.04,317.83 L193.72,318.86 L195.43,319.88 L197.14,320.87 L198.87,321.85 L200.60,322.82 L202.35,323.78 L204.11,324.72 L205.88,325.64 L207.65,326.56 L209.44,327.47 L211.23,328.36 L213.04,329.24 L214.85,330.11 L216.67,330.96 L218.50,331.81 L220.34,332.65 L222.18,333.47 L224.04,334.29 L225.90,335.09 L227.76,335.88 L229.64,336.67 L231.52,337.44 L233.40,338.20 L235.29,338.96 L237.19,339.70 L239.09,340.44 L241.00,341.17 L242.92,341.88 L244.84,342.59 L246.76,343.29 L248.69,343.99 L250.62,344.67 L252.56,345.35 L254.49,346.02 L256.44,346.68 L258.38,347.34 L260.33,347.98 L262.29,348.62 L264.24,349.26 L266.20,349.89 L268.16,350.51 L270.12,351.12 L272.08,351.73 L274.04,352.33 L276.01,352.93 L277.98,353.52 L279.94,354.11 L281.91,354.69 L283.88,355.27 L285.84,355.84 L287.81,356.41 L289.78,356.97 L291.74,357.53 L293.71,358.09 L295.67,358.64 L297.64,359.19 L299.60,359.73 L301.56,360.27 L303.51,360.81 L305.47,361.35 L307.42,361.88 L309.37,362.41 L311.31,362.94 L313.26,363.46 L315.20,363.99 L317.13,364.51 L319.06,365.03 L320.99,365.55 L322.91,366.07 L324.83,366.59 L326.75,367.10 L328.65,367.62 L330.56,368.13 L332.46,368.65 L334.35,369.17 L336.23,369.68 L338.11,370.20 L338.50,370.30" stroke="#b5b5b5" stroke-width="1.0"/>
<path d="M179.09,291.50 L179.61,292.09 L180.99,293.62 L182.40,295.12 L183.82,296.59 L185.26,298.03 L186.73,299.44 L188.21,300.82 L189.71,302.17 L191.22,303.50 L192.76,304.80 L194.31,306.07 L195.88,307.32 L197.46,308.54 L199.06,309.74 L200.68,310.91 L202.31,312.06 L203.96,313.18 L205.62,314.28 L207.30,315.36 L208.99,316.41 L210.69,317.45 L212.41,318.46 L214.14,319.45 L215.88,320.42 L217.64,321.38 L219.41,322.31 L221.19,323.22 L222.98,324.12 L224.78,325.00 L226.59,325.86 L228.41,326.70 L230.24,327.53 L232.09,328.34 L233.94,329.14 L235.80,329.92 L237.67,330.68 L239.54,331.44 L241.43,332.18 L243.32,332.90 L245.22,333.62 L247.13,334.32 L249.04,335.01 L250.96,335.69 L252.88,336.36 L254.82,337.02 L256.75,337.67 L258.69,338.31 L260.64,338.94 L262.59,339.56 L264.54,340.18 L266.49,340.79 L268.45,341.39 L270.42,341.99 L272.38,342.58 L274.35,343.16 L276.32,343.75 L278.29,344.32 L280.26,344.90 L282.23,345.47 L284.20,346.03 L286.17,346.60 L288.14,347.16 L290.11,347.72 L292.08,348.29 L294.05,348.85 L296.02,349.41 L297.98,349.97 L299.94,350.53 L301.90,351.10 L303.86,351.67 L305.81,352.24 L307.76,352.81 L309.71,353.39 L311.65,353.97 L313.58,354.55 L315.51,355.14 L317.44,355.74 L319.36,356.34 L321.27,356.95 L323.18,357.56 L325.08,358.19 L326.97,358.82 L328.86,359.46 L330.73,360.11 L332.60,360.77 L334.46,361.44 L336.31,362.11 L338.16,362.80 L338.50,362.94" stroke="#b5b5b5" stroke-width="1.0"/>
<path d="M137.97,291.50 L138.43,292.29 L139.49,294.00 L140.60,295.66 L141.75,297.30 L142.94,298.90 L144.17,300.47 L145.44,302.01 L146.74,303.51 L148.08,304.99 L149.46,306.43 L150.86,307.85 L152.30,309.24 L153.76,310.59 L155.26,311.93 L156.77,313.23 L158.32,314.51 L159.88,315.77 L161.47,317.00 L163.08,318.21 L164.70,319.40 L166.35,320.56 L168.01,321.70 L169.68,322.83 L171.38,323.93 L173.08,325.01 L174.80,326.08 L176.54,327.12 L178.28,328.15 L180.04,329.17 L181.81,330.17 L183.58,331.15 L185.37,332.12 L187.16,333.08 L188.96,334.02 L190.76,334.96 L192.57,335.88 L194.38,336.79 L196.20,337.69 L198.02,338.58 L199.84,339.46 L201.67,340.33 L203.50,341.19 L205.34,342.04 L207.18,342.88 L209.02,343.71 L210.87,344.54 L212.72,345.35 L214.57,346.16 L216.43,346.95 L218.28,347.74 L220.15,348.52 L222.01,349.29 L223.88,350.05 L225.75,350.80 L227.63,351.54 L229.51,352.28 L231.39,353.01 L233.27,353.73 L235.16,354.44 L237.05,355.14 L238.94,355.84 L240.84,356.53 L242.74,357.21 L244.64,357.88 L246.54,358.55 L248.45,359.21 L250.35,359.86 L252.26,360.51 L254.18,361.15 L256.09,361.78 L258.01,362.41 L259.93,363.03 L261.85,363.64 L263.78,364.25 L265.70,364.85 L267.63,365.45 L269.56,366.04 L271.50,366.63 L273.43,367.20 L275.37,367.78 L277.30,368.35 L279.24,368.91 L281.19,369.47 L283.13,370.02 L285.07,370.57 L287.02,371.11 L288.97,371.65 L290.92,372.18 L292.87,372.71 L294.82,373.24 L296.77,373.76 L298.73,374.28 L300.69,374.79 L302.64,375.30 L304.60,375.80 L306.56,376.31 L308.52,376.80 L310.48,377.30 L312.45,377.79 L314.41,378.28 L316.38,378.77 L318.34,379.25 L320.31,379.73 L322.27,380.20 L324.24,380.68 L326.21,381.15 L328.18,381.62 L330.15,382.09 L332.12,382.55 L334.09,383.01 L336.06,383.48 L338.03,383.93 L338.50,384.04" stroke="#141414" stroke-width="3.9"/>
</g>
<rect x="50.0" y="291.5" width="288.5" height="214.4" fill="none" stroke="#484848" stroke-width="1.25" stroke-linejoin="round"/>
<path d="M66.97,505.9v-3.6M66.97,291.5v3.6M83.94,505.9v-3.6M83.94,291.5v3.6M100.91,505.9v-3.6M100.91,291.5v3.6M117.88,505.9v-3.6M117.88,291.5v3.6M134.85,505.9v-7.0M134.85,291.5v7.0M151.82,505.9v-3.6M151.82,291.5v3.6M168.79,505.9v-3.6M168.79,291.5v3.6M185.76,505.9v-3.6M185.76,291.5v3.6M202.74,505.9v-3.6M202.74,291.5v3.6M219.71,505.9v-7.0M219.71,291.5v7.0M236.68,505.9v-3.6M236.68,291.5v3.6M253.65,505.9v-3.6M253.65,291.5v3.6M270.62,505.9v-3.6M270.62,291.5v3.6M287.59,505.9v-3.6M287.59,291.5v3.6M304.56,505.9v-7.0M304.56,291.5v7.0M321.53,505.9v-3.6M321.53,291.5v3.6M50.0,463.02h7.0M338.5,463.02h-7.0M50.0,420.14h3.6M338.5,420.14h-3.6M50.0,377.26h7.0M338.5,377.26h-7.0M50.0,334.38h3.6M338.5,334.38h-3.6" stroke="#484848" stroke-width="1.2" fill="none"/>
<text transform="translate(45.41,524.00) scale(1.080,1)" font-size="14.4">1</text>
<text transform="translate(123.73,524.00) scale(1.080,1)" font-size="14.4">1.5</text>
<text transform="translate(215.35,524.00) scale(1.080,1)" font-size="14.4">2</text>
<text transform="translate(293.67,524.00) scale(1.080,1)" font-size="14.4">2.5</text>
<text transform="translate(40.70,467.30) rotate(-90) scale(1.080,1)" font-size="14.4">4</text>
<text transform="translate(40.70,381.61) rotate(-90) scale(1.080,1)" font-size="14.4">6</text>
<text transform="translate(40.70,295.78) rotate(-90) scale(1.080,1)" font-size="14.4">8</text>
<text transform="translate(134.81,542.10) scale(1.085,1)" font-size="14.4">log(Temperature)</text>
<text transform="translate(12.30,439.67) rotate(-90) scale(1.064,1)" font-size="14.4">log(Density)</text>
<text transform="translate(218.66,313.50) scale(0.901,1)" font-size="14.4">HNC</text>
<text transform="translate(254.35,313.50) scale(1.120,1)" font-size="14.4" letter-spacing="1.439">8–7/1–0</text>
<text transform="translate(270.48,335.10) scale(1.077,1)" font-size="14.4">3e15</text>
<text transform="translate(255.95,384.50) scale(1.084,1)" font-size="14.4">19.3</text>
<g fill="none" stroke-linecap="round" stroke-linejoin="round">
<path d="M437.84,291.50 L438.15,292.62 L438.78,294.61 L439.47,296.56 L440.21,298.46 L441.02,300.31 L441.88,302.13 L442.80,303.89 L443.77,305.62 L444.79,307.31 L445.86,308.95 L446.98,310.56 L448.15,312.12 L449.36,313.65 L450.62,315.14 L451.91,316.59 L453.25,318.01 L454.63,319.39 L456.04,320.74 L457.49,322.06 L458.98,323.34 L460.49,324.59 L462.04,325.81 L463.62,327.00 L465.22,328.16 L466.86,329.29 L468.51,330.40 L470.19,331.47 L471.90,332.53 L473.62,333.55 L475.36,334.55 L477.12,335.53 L478.89,336.48 L480.68,337.41 L482.48,338.32 L484.30,339.21 L486.13,340.08 L487.97,340.94 L489.83,341.77 L491.70,342.58 L493.57,343.38 L495.46,344.17 L497.35,344.93 L499.26,345.69 L501.17,346.43 L503.09,347.16 L505.02,347.87 L506.95,348.58 L508.89,349.27 L510.83,349.96 L512.78,350.64 L514.73,351.31 L516.68,351.97 L518.64,352.63 L520.59,353.28 L522.55,353.92 L524.51,354.57 L526.47,355.21 L528.42,355.84 L530.38,356.48 L532.33,357.11 L534.28,357.75 L536.23,358.38 L538.17,359.02 L540.12,359.65 L542.06,360.28 L544.00,360.91 L545.94,361.55 L547.87,362.18 L549.81,362.81 L551.74,363.43 L553.67,364.06 L555.60,364.69 L557.53,365.32 L559.46,365.94 L561.38,366.57 L563.30,367.19 L565.23,367.82 L567.15,368.44 L569.07,369.07 L570.99,369.69 L572.90,370.31 L574.82,370.93 L576.74,371.55 L578.65,372.17 L580.57,372.79 L582.48,373.41 L584.39,374.03 L586.31,374.65 L588.22,375.26 L590.13,375.88 L592.04,376.50 L593.95,377.11 L595.86,377.73 L597.77,378.34 L599.68,378.95 L601.59,379.57 L603.49,380.18 L605.40,380.79 L607.31,381.40 L609.22,382.01 L611.13,382.62 L613.04,383.23 L614.95,383.84 L616.86,384.45 L618.77,385.05 L620.68,385.66 L622.59,386.27 L624.50,386.87 L626.41,387.48 L628.32,388.08 L630.24,388.69 L632.15,389.29 L634.06,389.90 L635.98,390.50 L637.89,391.10 L639.81,391.70 L641.73,392.30 L643.65,392.90 L645.57,393.50 L647.49,394.10 L649.41,394.70 L651.34,395.30 L653.26,395.90 L655.19,396.49 L657.12,397.09 L659.05,397.69 L660.98,398.28 L662.91,398.88 L664.85,399.47 L666.78,400.07 L668.72,400.66 L670.66,401.25 L672.61,401.85 L674.55,402.44 L676.50,403.03 L678.44,403.62 L680.40,404.21 L682.35,404.80 L684.30,405.39 L686.26,405.98 L688.22,406.57 L690.18,407.16 L692.15,407.74 L694.11,408.33 L696.08,408.92 L698.06,409.50 L700.03,410.09 L700.50,410.23" stroke="#b5b5b5" stroke-width="1.0"/>
<path d="M533.21,291.50 L533.60,292.48 L534.46,294.35 L535.39,296.16 L536.40,297.91 L537.48,299.59 L538.63,301.22 L539.85,302.79 L541.13,304.31 L542.47,305.78 L543.86,307.19 L545.31,308.55 L546.82,309.87 L548.37,311.14 L549.96,312.36 L551.59,313.55 L553.27,314.69 L554.98,315.79 L556.72,316.86 L558.49,317.89 L560.28,318.88 L562.10,319.85 L563.94,320.78 L565.80,321.69 L567.67,322.56 L569.55,323.42 L571.43,324.25 L573.32,325.06 L575.22,325.84 L577.13,326.61 L579.03,327.35 L580.95,328.08 L582.86,328.78 L584.79,329.47 L586.71,330.14 L588.64,330.80 L590.58,331.44 L592.52,332.06 L594.46,332.67 L596.41,333.27 L598.36,333.85 L600.32,334.42 L602.28,334.98 L604.24,335.52 L606.21,336.06 L608.18,336.58 L610.15,337.10 L612.12,337.61 L614.10,338.11 L616.08,338.60 L618.07,339.09 L620.05,339.57 L622.04,340.05 L624.03,340.52 L626.02,340.99 L628.01,341.45 L630.01,341.92 L632.01,342.38 L634.01,342.84 L636.01,343.30 L638.01,343.76 L640.01,344.22 L642.02,344.68 L644.02,345.15 L646.03,345.61 L648.03,346.07 L650.04,346.53 L652.05,346.99 L654.05,347.45 L656.06,347.90 L658.07,348.36 L660.08,348.81 L662.08,349.26 L664.09,349.71 L666.10,350.15 L668.10,350.59 L670.11,351.03 L672.11,351.46 L674.11,351.89 L676.12,352.31 L678.12,352.73 L680.12,353.14 L682.12,353.54 L684.11,353.94 L686.11,354.34 L688.10,354.72 L690.09,355.10 L692.08,355.47 L694.07,355.84 L696.05,356.20 L698.03,356.54 L700.01,356.88 L700.50,356.96" stroke="#141414" stroke-width="3.9"/>
</g>
<rect x="412.3" y="291.5" width="288.2" height="214.4" fill="none" stroke="#484848" stroke-width="1.25" stroke-linejoin="round"/>
<path d="M429.25,505.9v-3.6M429.25,291.5v3.6M446.21,505.9v-3.6M446.21,291.5v3.6M463.16,505.9v-3.6M463.16,291.5v3.6M480.11,505.9v-3.6M480.11,291.5v3.6M497.06,505.9v-7.0M497.06,291.5v7.0M514.02,505.9v-3.6M514.02,291.5v3.6M530.97,505.9v-3.6M530.97,291.5v3.6M547.92,505.9v-3.6M547.92,291.5v3.6M564.88,505.9v-3.6M564.88,291.5v3.6M581.83,505.9v-7.0M581.83,291.5v7.0M598.78,505.9v-3.6M598.78,291.5v3.6M615.74,505.9v-3.6M615.74,291.5v3.6M632.69,505.9v-3.6M632.69,291.5v3.6M649.64,505.9v-3.6M649.64,291.5v3.6M666.59,505.9v-7.0M666.59,291.5v7.0M683.55,505.9v-3.6M683.55,291.5v3.6M412.3,463.02h7.0M700.5,463.02h-7.0M412.3,420.14h3.6M700.5,420.14h-3.6M412.3,377.26h7.0M700.5,377.26h-7.0M412.3,334.38h3.6M700.5,334.38h-3.6" stroke="#484848" stroke-width="1.2" fill="none"/>
<text transform="translate(407.71,524.00) scale(1.080,1)" font-size="14.4">1</text>
<text transform="translate(485.95,524.00) scale(1.080,1)" font-size="14.4">1.5</text>
<text transform="translate(577.47,524.00) scale(1.080,1)" font-size="14.4">2</text>
<text transform="translate(655.71,524.00) scale(1.080,1)" font-size="14.4">2.5</text>
<text transform="translate(403.00,467.30) rotate(-90) scale(1.080,1)" font-size="14.4">4</text>
<text transform="translate(403.00,381.61) rotate(-90) scale(1.080,1)" font-size="14.4">6</text>
<text transform="translate(403.00,295.78) rotate(-90) scale(1.080,1)" font-size="14.4">8</text>
<text transform="translate(497.11,542.10) scale(1.085,1)" font-size="14.4">log(Temperature)</text>
<text transform="translate(374.60,439.67) rotate(-90) scale(1.064,1)" font-size="14.4">log(Density)</text>
<text transform="translate(580.86,313.50) scale(0.904,1)" font-size="14.4">HNC</text>
<text transform="translate(616.88,313.50) scale(1.120,1)" font-size="14.4" letter-spacing="1.251">4–3/3–2</text>
<text transform="translate(632.58,335.10) scale(1.074,1)" font-size="14.4">3e15</text>
<text transform="translate(621.76,358.60) scale(1.034,1)" font-size="14.4">2.1</text>
<g fill="none" stroke-linecap="round" stroke-linejoin="round">
<path d="M126.79,579.50 L127.35,580.32 L128.57,582.01 L129.80,583.67 L131.06,585.30 L132.33,586.91 L133.63,588.48 L134.95,590.03 L136.29,591.55 L137.65,593.04 L139.03,594.51 L140.43,595.95 L141.84,597.37 L143.28,598.77 L144.73,600.14 L146.20,601.48 L147.68,602.81 L149.19,604.11 L150.70,605.39 L152.24,606.66 L153.79,607.90 L155.35,609.12 L156.93,610.32 L158.52,611.51 L160.13,612.67 L161.75,613.82 L163.38,614.96 L165.03,616.07 L166.68,617.18 L168.35,618.26 L170.03,619.33 L171.72,620.39 L173.42,621.44 L175.13,622.47 L176.85,623.49 L178.57,624.50 L180.31,625.50 L182.05,626.49 L183.81,627.47 L185.57,628.44 L187.33,629.41 L189.10,630.36 L190.88,631.31 L192.67,632.25 L194.46,633.18 L196.25,634.11 L198.05,635.04 L199.85,635.96 L201.66,636.87 L203.47,637.78 L205.28,638.69 L207.10,639.60 L208.91,640.51 L210.73,641.41 L212.55,642.32 L214.37,643.22 L216.19,644.13 L218.01,645.04 L219.83,645.95 L221.64,646.86 L223.46,647.78 L225.28,648.70 L227.09,649.62 L228.90,650.55 L230.70,651.48 L232.51,652.42 L234.31,653.37 L236.10,654.33 L237.89,655.29 L239.67,656.26 L241.45,657.24 L243.23,658.23 L244.99,659.23 L246.75,660.24 L248.50,661.26 L250.25,662.29 L251.98,663.34 L253.71,664.40 L255.43,665.47 L257.14,666.56 L258.84,667.66 L260.53,668.78 L262.21,669.91 L263.87,671.06 L265.53,672.22 L267.17,673.40 L268.80,674.60 L270.42,675.81 L272.02,677.04 L273.61,678.29 L275.18,679.55 L276.73,680.83 L278.27,682.12 L279.79,683.44 L281.30,684.77 L282.78,686.11 L284.25,687.48 L285.70,688.86 L287.13,690.26 L288.53,691.67 L289.92,693.11 L291.28,694.56 L292.62,696.03 L293.94,697.51 L295.24,699.02 L296.51,700.54 L297.75,702.09 L298.98,703.65 L300.17,705.22 L301.34,706.82 L302.48,708.44 L303.60,710.08 L304.68,711.73 L305.74,713.40 L306.77,715.10 L307.77,716.81 L308.73,718.54 L309.67,720.29 L310.58,722.06 L311.45,723.85 L312.29,725.66 L313.10,727.49 L313.88,729.34 L314.63,731.20 L315.35,733.07 L316.03,734.97 L316.69,736.87 L317.32,738.79 L317.92,740.73 L318.49,742.67 L319.03,744.63 L319.54,746.59 L320.02,748.57 L320.47,750.55 L320.90,752.55 L321.29,754.55 L321.66,756.56 L322.01,758.57 L322.32,760.59 L322.61,762.61 L322.87,764.64 L323.11,766.67 L323.32,768.71 L323.50,770.74 L323.66,772.78 L323.79,774.81 L323.90,776.85 L323.98,778.88 L324.04,780.91 L324.07,782.94 L324.08,784.97 L324.07,786.99 L324.03,789.00 L323.97,791.01 L323.88,793.02 L323.83,793.90" stroke="#b5b5b5" stroke-width="1.0"/>
<path d="M137.99,579.50 L138.63,580.40 L139.95,582.14 L141.29,583.82 L142.65,585.45 L144.04,587.03 L145.45,588.56 L146.88,590.04 L148.34,591.47 L149.81,592.86 L151.31,594.21 L152.83,595.52 L154.36,596.78 L155.92,598.01 L157.49,599.21 L159.08,600.38 L160.69,601.51 L162.31,602.62 L163.95,603.70 L165.60,604.75 L167.27,605.78 L168.95,606.80 L170.64,607.79 L172.35,608.77 L174.06,609.73 L175.79,610.69 L177.53,611.63 L179.28,612.56 L181.03,613.49 L182.80,614.41 L184.57,615.33 L186.35,616.25 L188.14,617.18 L189.93,618.10 L191.73,619.02 L193.53,619.94 L195.34,620.86 L197.16,621.78 L198.98,622.69 L200.81,623.60 L202.63,624.51 L204.47,625.41 L206.31,626.30 L208.15,627.19 L209.99,628.07 L211.84,628.94 L213.69,629.80 L215.54,630.65 L217.40,631.48 L219.26,632.32 L221.11,633.14 L222.98,633.96 L224.84,634.77 L226.70,635.58 L228.56,636.39 L230.43,637.19 L232.29,638.00 L234.16,638.82 L236.02,639.64 L237.89,640.46 L239.75,641.29 L241.61,642.12 L243.48,642.95 L245.34,643.79 L247.20,644.63 L249.06,645.47 L250.92,646.31 L252.78,647.15 L254.64,647.99 L256.49,648.83 L258.35,649.67 L260.20,650.50 L262.06,651.33 L263.91,652.16 L265.76,652.98 L267.61,653.80 L269.46,654.61 L271.31,655.41 L273.15,656.22 L275.00,657.01 L276.84,657.81 L278.68,658.60 L280.52,659.40 L282.36,660.19 L284.20,660.98 L286.03,661.77 L287.87,662.57 L289.70,663.37 L291.53,664.17 L293.36,664.97 L295.18,665.78 L297.01,666.60 L298.83,667.42 L300.65,668.24 L302.46,669.08 L304.28,669.92 L306.09,670.77 L307.90,671.63 L309.71,672.50 L311.51,673.38 L313.32,674.28 L315.12,675.18 L316.91,676.10 L318.71,677.03 L320.50,677.97 L322.29,678.93 L324.08,679.91 L325.86,680.90 L327.64,681.91 L329.42,682.93 L331.20,683.98 L332.97,685.04 L334.74,686.13 L336.50,687.23 L338.26,688.36 L338.50,688.51" stroke="#b5b5b5" stroke-width="1.0"/>
<path d="M153.19,579.50 L153.90,580.44 L155.29,582.15 L156.71,583.75 L158.14,585.26 L159.60,586.67 L161.07,588.02 L162.57,589.29 L164.08,590.51 L165.61,591.68 L167.16,592.81 L168.73,593.91 L170.31,594.99 L171.91,596.07 L173.53,597.15 L175.16,598.22 L176.80,599.30 L178.46,600.37 L180.14,601.45 L181.83,602.51 L183.53,603.57 L185.24,604.62 L186.97,605.66 L188.71,606.69 L190.46,607.71 L192.22,608.71 L193.99,609.70 L195.77,610.67 L197.56,611.62 L199.36,612.56 L201.16,613.49 L202.98,614.40 L204.80,615.29 L206.63,616.18 L208.47,617.05 L210.31,617.91 L212.16,618.76 L214.02,619.60 L215.87,620.43 L217.74,621.25 L219.61,622.06 L221.48,622.87 L223.35,623.67 L225.23,624.46 L227.10,625.24 L228.98,626.02 L230.86,626.80 L232.75,627.57 L234.63,628.34 L236.51,629.10 L238.40,629.86 L240.28,630.61 L242.17,631.36 L244.06,632.10 L245.95,632.84 L247.84,633.58 L249.73,634.31 L251.62,635.04 L253.52,635.76 L255.41,636.48 L257.31,637.19 L259.20,637.90 L261.10,638.61 L263.00,639.31 L264.90,640.01 L266.80,640.71 L268.71,641.40 L270.61,642.08 L272.52,642.76 L274.42,643.44 L276.33,644.12 L278.24,644.79 L280.15,645.45 L282.06,646.12 L283.97,646.78 L285.89,647.43 L287.80,648.08 L289.72,648.73 L291.63,649.37 L293.55,650.01 L295.47,650.65 L297.39,651.28 L299.32,651.91 L301.24,652.54 L303.16,653.16 L305.09,653.78 L307.02,654.39 L308.95,655.00 L310.88,655.61 L312.81,656.21 L314.74,656.82 L316.67,657.41 L318.61,658.01 L320.55,658.60 L322.49,659.18 L324.42,659.77 L326.37,660.35 L328.31,660.93 L330.25,661.50 L332.20,662.07 L334.14,662.64 L336.09,663.20 L338.04,663.76 L338.50,663.89" stroke="#b5b5b5" stroke-width="1.0"/>
<path d="M191.06,579.50 L191.66,580.07 L193.19,581.45 L194.74,582.81 L196.31,584.13 L197.89,585.43 L199.49,586.70 L201.10,587.94 L202.73,589.16 L204.37,590.35 L206.03,591.52 L207.71,592.66 L209.39,593.77 L211.09,594.86 L212.81,595.93 L214.54,596.98 L216.28,598.00 L218.03,599.00 L219.79,599.98 L221.57,600.94 L223.36,601.88 L225.16,602.80 L226.97,603.70 L228.79,604.58 L230.63,605.44 L232.47,606.29 L234.32,607.12 L236.18,607.93 L238.05,608.73 L239.93,609.51 L241.82,610.27 L243.71,611.03 L245.62,611.77 L247.53,612.49 L249.44,613.20 L251.37,613.91 L253.30,614.59 L255.24,615.27 L257.18,615.94 L259.13,616.60 L261.08,617.25 L263.04,617.89 L265.01,618.52 L266.98,619.14 L268.95,619.75 L270.92,620.36 L272.90,620.96 L274.89,621.55 L276.87,622.14 L278.86,622.72 L280.85,623.30 L282.84,623.87 L284.83,624.43 L286.83,625.00 L288.82,625.55 L290.82,626.11 L292.82,626.66 L294.81,627.20 L296.81,627.75 L298.80,628.29 L300.80,628.83 L302.79,629.37 L304.78,629.91 L306.77,630.45 L308.76,630.99 L310.74,631.53 L312.72,632.07 L314.70,632.61 L316.67,633.15 L318.64,633.70 L320.61,634.24 L322.57,634.79 L324.53,635.35 L326.48,635.90 L328.43,636.46 L330.37,637.03 L332.30,637.59 L334.23,638.17 L336.15,638.75 L338.07,639.33 L338.50,639.46" stroke="#b5b5b5" stroke-width="1.0"/>
<path d="M221.85,579.50 L222.44,580.08 L223.93,581.50 L225.45,582.89 L226.98,584.25 L228.54,585.58 L230.11,586.88 L231.70,588.16 L233.32,589.41 L234.95,590.63 L236.60,591.83 L238.26,593.00 L239.94,594.15 L241.64,595.27 L243.36,596.37 L245.09,597.44 L246.83,598.50 L248.59,599.52 L250.37,600.53 L252.16,601.52 L253.96,602.48 L255.78,603.42 L257.60,604.34 L259.44,605.24 L261.30,606.13 L263.16,606.99 L265.03,607.84 L266.92,608.66 L268.81,609.47 L270.72,610.26 L272.63,611.04 L274.55,611.80 L276.48,612.54 L278.42,613.27 L280.36,613.98 L282.32,614.68 L284.27,615.36 L286.24,616.03 L288.21,616.69 L290.19,617.33 L292.17,617.96 L294.15,618.58 L296.14,619.18 L298.13,619.78 L300.13,620.36 L302.12,620.93 L304.12,621.48 L306.12,622.03 L308.13,622.57 L310.13,623.10 L312.13,623.61 L314.14,624.12 L316.14,624.62 L318.14,625.11 L320.14,625.59 L322.14,626.07 L324.14,626.53 L326.13,626.99 L328.13,627.44 L330.11,627.89 L332.10,628.33 L334.08,628.76 L336.05,629.19 L338.02,629.61 L338.50,629.71" stroke="#b5b5b5" stroke-width="1.0"/>
<path d="M255.83,579.50 L256.44,580.21 L257.84,581.75 L259.27,583.24 L260.74,584.70 L262.24,586.11 L263.78,587.49 L265.35,588.82 L266.95,590.12 L268.58,591.37 L270.24,592.59 L271.92,593.78 L273.64,594.93 L275.38,596.04 L277.14,597.12 L278.93,598.17 L280.74,599.18 L282.57,600.17 L284.42,601.12 L286.29,602.05 L288.18,602.94 L290.08,603.81 L292.00,604.66 L293.94,605.47 L295.89,606.26 L297.85,607.03 L299.82,607.77 L301.81,608.50 L303.80,609.20 L305.80,609.88 L307.81,610.54 L309.82,611.18 L311.84,611.80 L313.86,612.41 L315.88,613.00 L317.91,613.57 L319.94,614.13 L321.96,614.67 L323.99,615.21 L326.01,615.73 L328.03,616.24 L330.04,616.74 L332.05,617.23 L334.05,617.71 L336.04,618.18 L338.02,618.65 L338.50,618.76" stroke="#b5b5b5" stroke-width="1.0"/>
<path d="M169.03,579.50 L169.64,580.27 L170.99,581.86 L172.36,583.41 L173.76,584.90 L175.20,586.35 L176.66,587.76 L178.15,589.13 L179.67,590.45 L181.22,591.74 L182.78,592.98 L184.38,594.19 L185.99,595.37 L187.63,596.51 L189.29,597.62 L190.97,598.70 L192.67,599.75 L194.38,600.78 L196.11,601.78 L197.86,602.75 L199.63,603.70 L201.40,604.62 L203.20,605.53 L205.00,606.41 L206.81,607.28 L208.64,608.14 L210.47,608.97 L212.31,609.80 L214.16,610.61 L216.01,611.41 L217.87,612.21 L219.74,612.99 L221.61,613.76 L223.49,614.52 L225.37,615.28 L227.25,616.02 L229.15,616.76 L231.04,617.48 L232.94,618.20 L234.85,618.91 L236.75,619.62 L238.67,620.31 L240.58,621.00 L242.50,621.68 L244.43,622.35 L246.36,623.01 L248.29,623.67 L250.22,624.32 L252.16,624.97 L254.10,625.61 L256.04,626.24 L257.99,626.87 L259.93,627.49 L261.88,628.10 L263.83,628.71 L265.79,629.31 L267.74,629.91 L269.70,630.51 L271.66,631.10 L273.62,631.68 L275.58,632.27 L277.54,632.84 L279.51,633.42 L281.47,633.99 L283.43,634.55 L285.40,635.12 L287.36,635.68 L289.33,636.23 L291.29,636.79 L293.26,637.34 L295.22,637.89 L297.19,638.44 L299.15,638.98 L301.11,639.52 L303.08,640.07 L305.04,640.61 L307.00,641.15 L308.95,641.69 L310.91,642.22 L312.87,642.76 L314.82,643.30 L316.77,643.84 L318.72,644.37 L320.66,644.91 L322.61,645.45 L324.55,645.99 L326.49,646.52 L328.43,647.06 L330.36,647.60 L332.29,648.15 L334.21,648.69 L336.14,649.24 L338.06,649.78 L338.50,649.91" stroke="#141414" stroke-width="3.9"/>
</g>
<rect x="50.0" y="579.5" width="288.5" height="214.4" fill="none" stroke="#484848" stroke-width="1.25" stroke-linejoin="round"/>
<path d="M66.97,793.9v-3.6M66.97,579.5v3.6M83.94,793.9v-3.6M83.94,579.5v3.6M100.91,793.9v-3.6M100.91,579.5v3.6M117.88,793.9v-3.6M117.88,579.5v3.6M134.85,793.9v-7.0M134.85,579.5v7.0M151.82,793.9v-3.6M151.82,579.5v3.6M168.79,793.9v-3.6M168.79,579.5v3.6M185.76,793.9v-3.6M185.76,579.5v3.6M202.74,793.9v-3.6M202.74,579.5v3.6M219.71,793.9v-7.0M219.71,579.5v7.0M236.68,793.9v-3.6M236.68,579.5v3.6M253.65,793.9v-3.6M253.65,579.5v3.6M270.62,793.9v-3.6M270.62,579.5v3.6M287.59,793.9v-3.6M287.59,579.5v3.6M304.56,793.9v-7.0M304.56,579.5v7.0M321.53,793.9v-3.6M321.53,579.5v3.6M50.0,751.02h7.0M338.5,751.02h-7.0M50.0,708.14h3.6M338.5,708.14h-3.6M50.0,665.26h7.0M338.5,665.26h-7.0M50.0,622.38h3.6M338.5,622.38h-3.6" stroke="#484848" stroke-width="1.2" fill="none"/>
<text transform="translate(45.41,812.00) scale(1.080,1)" font-size="14.4">1</text>
<text transform="translate(123.73,812.00) scale(1.080,1)" font-size="14.4">1.5</text>
<text transform="translate(215.35,812.00) scale(1.080,1)" font-size="14.4">2</text>
<text transform="translate(293.67,812.00) scale(1.080,1)" font-size="14.4">2.5</text>
<text transform="translate(40.70,755.30) rotate(-90) scale(1.080,1)" font-size="14.4">4</text>
<text transform="translate(40.70,669.61) rotate(-90) scale(1.080,1)" font-size="14.4">6</text>
<text transform="translate(40.70,583.78) rotate(-90) scale(1.080,1)" font-size="14.4">8</text>
<text transform="translate(134.81,830.10) scale(1.085,1)" font-size="14.4">log(Temperature)</text>
<text transform="translate(12.30,727.67) rotate(-90) scale(1.064,1)" font-size="14.4">log(Density)</text>
<text transform="translate(57.66,742.90) scale(0.901,1)" font-size="14.4">HNC</text>
<text transform="translate(93.35,742.90) scale(1.120,1)" font-size="14.4" letter-spacing="1.269">8–7/3–2</text>
<text transform="translate(92.08,764.40) scale(1.084,1)" font-size="14.4">3e15</text>
<text transform="translate(259.81,625.30) scale(1.104,1)" font-size="14.4">2.2</text>
<g fill="none" stroke-linecap="round" stroke-linejoin="round">
<path d="M498.32,579.50 L498.84,580.28 L499.96,581.85 L501.12,583.40 L502.33,584.91 L503.59,586.41 L504.89,587.87 L506.23,589.31 L507.61,590.73 L509.02,592.12 L510.47,593.50 L511.95,594.84 L513.46,596.17 L515.00,597.48 L516.56,598.77 L518.15,600.03 L519.76,601.28 L521.38,602.51 L523.03,603.72 L524.69,604.92 L526.36,606.10 L528.04,607.26 L529.73,608.41 L531.42,609.54 L533.12,610.66 L534.82,611.77 L536.53,612.86 L538.23,613.94 L539.94,615.02 L541.65,616.08 L543.36,617.13 L545.08,618.17 L546.80,619.20 L548.51,620.23 L550.24,621.24 L551.96,622.25 L553.69,623.26 L555.42,624.26 L557.15,625.25 L558.89,626.24 L560.62,627.23 L562.37,628.21 L564.11,629.19 L565.86,630.17 L567.61,631.15 L569.36,632.13 L571.11,633.11 L572.87,634.09 L574.63,635.07 L576.40,636.05 L578.16,637.04 L579.94,638.03 L581.71,639.02 L583.49,640.02 L585.27,641.02 L587.05,642.03 L588.83,643.05 L590.62,644.08 L592.40,645.11 L594.18,646.15 L595.96,647.20 L597.73,648.26 L599.50,649.33 L601.26,650.41 L603.01,651.51 L604.75,652.61 L606.48,653.73 L608.20,654.86 L609.91,656.01 L611.61,657.17 L613.28,658.35 L614.95,659.55 L616.59,660.76 L618.22,661.99 L619.83,663.24 L621.42,664.50 L622.98,665.79 L624.52,667.09 L626.04,668.42 L627.53,669.77 L629.00,671.14 L630.44,672.53 L631.85,673.95 L633.23,675.39 L634.58,676.86 L635.90,678.35 L637.18,679.86 L638.43,681.40 L639.65,682.96 L640.84,684.54 L642.00,686.15 L643.12,687.77 L644.20,689.42 L645.26,691.09 L646.28,692.78 L647.26,694.49 L648.21,696.21 L649.13,697.96 L650.00,699.72 L650.85,701.50 L651.66,703.30 L652.43,705.11 L653.16,706.94 L653.86,708.79 L654.52,710.65 L655.14,712.52 L655.73,714.41 L656.28,716.31 L656.78,718.22 L657.26,720.14 L657.69,722.08 L658.08,724.03 L658.43,725.99 L658.75,727.95 L659.02,729.93 L659.26,731.92 L659.46,733.91 L659.62,735.91 L659.76,737.92 L659.87,739.94 L659.95,741.96 L660.00,743.99 L660.04,746.03 L660.06,748.06 L660.06,750.11 L660.05,752.15 L660.02,754.20 L659.99,756.26 L659.95,758.31 L659.90,760.37 L659.86,762.42 L659.81,764.48 L659.77,766.54 L659.73,768.60 L659.70,770.65 L659.68,772.71 L659.67,774.76 L659.67,776.81 L659.68,778.85 L659.71,780.90 L659.76,782.94 L659.83,784.97 L659.92,787.00 L660.03,789.02 L660.16,791.04 L660.32,793.05 L660.40,793.90" stroke="#b5b5b5" stroke-width="1.0"/>
<path d="M515.63,579.50 L516.26,580.22 L517.63,581.73 L519.03,583.21 L520.45,584.66 L521.89,586.08 L523.35,587.47 L524.84,588.83 L526.34,590.17 L527.87,591.48 L529.41,592.76 L530.97,594.01 L532.55,595.25 L534.14,596.45 L535.76,597.64 L537.38,598.80 L539.03,599.95 L540.69,601.07 L542.36,602.17 L544.05,603.25 L545.75,604.32 L547.46,605.37 L549.19,606.40 L550.92,607.41 L552.67,608.42 L554.43,609.40 L556.19,610.38 L557.97,611.34 L559.76,612.28 L561.55,613.22 L563.35,614.15 L565.15,615.07 L566.97,615.98 L568.79,616.88 L570.61,617.77 L572.44,618.66 L574.27,619.54 L576.10,620.42 L577.94,621.30 L579.78,622.17 L581.62,623.03 L583.46,623.90 L585.31,624.76 L587.15,625.63 L589.00,626.49 L590.85,627.34 L592.70,628.20 L594.55,629.05 L596.40,629.90 L598.25,630.75 L600.10,631.60 L601.96,632.45 L603.81,633.30 L605.67,634.14 L607.52,634.98 L609.38,635.82 L611.24,636.66 L613.09,637.50 L614.95,638.34 L616.81,639.18 L618.67,640.01 L620.53,640.85 L622.39,641.68 L624.25,642.51 L626.11,643.35 L627.97,644.18 L629.84,645.01 L631.70,645.84 L633.56,646.67 L635.42,647.50 L637.28,648.33 L639.14,649.16 L641.00,649.99 L642.86,650.82 L644.72,651.65 L646.58,652.48 L648.44,653.31 L650.30,654.14 L652.16,654.97 L654.02,655.80 L655.88,656.63 L657.73,657.46 L659.59,658.29 L661.45,659.12 L663.30,659.95 L665.15,660.79 L667.01,661.62 L668.86,662.46 L670.71,663.29 L672.56,664.13 L674.41,664.97 L676.26,665.81 L678.10,666.65 L679.95,667.49 L681.79,668.34 L683.64,669.18 L685.48,670.03 L687.32,670.88 L689.16,671.73 L690.99,672.58 L692.83,673.43 L694.66,674.29 L696.49,675.14 L698.32,676.00 L700.15,676.86 L700.50,677.03" stroke="#b5b5b5" stroke-width="1.0"/>
<path d="M559.81,579.50 L560.36,579.96 L561.96,581.27 L563.58,582.55 L565.21,583.80 L566.86,585.03 L568.51,586.24 L570.18,587.42 L571.87,588.59 L573.56,589.72 L575.27,590.84 L576.98,591.93 L578.71,593.01 L580.45,594.06 L582.20,595.09 L583.97,596.10 L585.74,597.09 L587.52,598.07 L589.31,599.02 L591.12,599.96 L592.93,600.88 L594.75,601.78 L596.58,602.67 L598.42,603.54 L600.27,604.39 L602.12,605.23 L603.99,606.06 L605.86,606.87 L607.74,607.66 L609.62,608.44 L611.52,609.21 L613.42,609.97 L615.32,610.72 L617.24,611.45 L619.16,612.17 L621.08,612.88 L623.01,613.58 L624.95,614.28 L626.89,614.96 L628.83,615.63 L630.78,616.30 L632.74,616.95 L634.70,617.60 L636.66,618.24 L638.62,618.87 L640.59,619.49 L642.57,620.11 L644.54,620.72 L646.52,621.32 L648.50,621.91 L650.48,622.50 L652.47,623.08 L654.45,623.65 L656.44,624.22 L658.43,624.78 L660.42,625.33 L662.41,625.88 L664.40,626.42 L666.39,626.96 L668.38,627.49 L670.37,628.02 L672.36,628.54 L674.35,629.06 L676.34,629.57 L678.33,630.08 L680.31,630.59 L682.30,631.09 L684.28,631.59 L686.26,632.08 L688.23,632.57 L690.21,633.06 L692.18,633.54 L694.15,634.03 L696.11,634.51 L698.07,634.98 L700.03,635.46 L700.50,635.57" stroke="#b5b5b5" stroke-width="1.0"/>
<path d="M596.15,579.50 L596.74,580.11 L598.23,581.56 L599.74,582.97 L601.28,584.34 L602.84,585.68 L604.43,586.98 L606.04,588.24 L607.67,589.46 L609.33,590.65 L611.00,591.81 L612.70,592.93 L614.42,594.03 L616.15,595.09 L617.91,596.12 L619.68,597.12 L621.48,598.09 L623.29,599.03 L625.11,599.94 L626.95,600.83 L628.81,601.70 L630.68,602.53 L632.56,603.35 L634.46,604.14 L636.36,604.91 L638.28,605.65 L640.22,606.38 L642.16,607.08 L644.11,607.77 L646.07,608.44 L648.04,609.09 L650.02,609.72 L652.00,610.34 L653.99,610.94 L655.99,611.53 L657.99,612.11 L659.99,612.67 L662.00,613.22 L664.01,613.76 L666.03,614.29 L668.05,614.81 L670.06,615.32 L672.08,615.82 L674.10,616.32 L676.12,616.81 L678.14,617.30 L680.15,617.78 L682.16,618.26 L684.17,618.73 L686.18,619.21 L688.18,619.68 L690.17,620.15 L692.16,620.62 L694.14,621.09 L696.11,621.57 L698.08,622.05 L700.04,622.53 L700.50,622.64" stroke="#b5b5b5" stroke-width="1.0"/>
<path d="M532.98,579.50 L533.61,580.22 L535.02,581.74 L536.46,583.22 L537.92,584.66 L539.41,586.06 L540.93,587.41 L542.47,588.73 L544.03,590.01 L545.61,591.26 L547.22,592.47 L548.84,593.64 L550.49,594.78 L552.15,595.90 L553.84,596.98 L555.54,598.04 L557.25,599.07 L558.99,600.07 L560.73,601.05 L562.50,602.00 L564.27,602.94 L566.06,603.85 L567.86,604.75 L569.67,605.63 L571.49,606.49 L573.32,607.34 L575.16,608.18 L577.00,609.00 L578.85,609.81 L580.71,610.62 L582.58,611.41 L584.45,612.20 L586.32,612.98 L588.19,613.76 L590.07,614.53 L591.96,615.30 L593.84,616.06 L595.73,616.81 L597.62,617.56 L599.52,618.31 L601.42,619.05 L603.32,619.78 L605.23,620.51 L607.13,621.23 L609.04,621.95 L610.96,622.67 L612.87,623.37 L614.79,624.08 L616.71,624.78 L618.63,625.47 L620.56,626.17 L622.48,626.85 L624.41,627.53 L626.34,628.21 L628.27,628.88 L630.20,629.55 L632.14,630.22 L634.08,630.88 L636.01,631.54 L637.95,632.19 L639.89,632.84 L641.83,633.48 L643.77,634.12 L645.72,634.76 L647.66,635.39 L649.60,636.02 L651.55,636.65 L653.49,637.27 L655.44,637.89 L657.38,638.51 L659.33,639.13 L661.27,639.74 L663.22,640.34 L665.16,640.95 L667.11,641.55 L669.05,642.15 L671.00,642.74 L672.94,643.33 L674.89,643.92 L676.83,644.51 L678.77,645.10 L680.71,645.68 L682.65,646.26 L684.59,646.83 L686.53,647.41 L688.46,647.98 L690.40,648.55 L692.33,649.12 L694.26,649.69 L696.19,650.25 L698.12,650.81 L700.05,651.37 L700.50,651.50" stroke="#141414" stroke-width="3.9"/>
</g>
<rect x="412.3" y="579.5" width="288.2" height="214.4" fill="none" stroke="#484848" stroke-width="1.25" stroke-linejoin="round"/>
<path d="M429.25,793.9v-3.6M429.25,579.5v3.6M446.21,793.9v-3.6M446.21,579.5v3.6M463.16,793.9v-3.6M463.16,579.5v3.6M480.11,793.9v-3.6M480.11,579.5v3.6M497.06,793.9v-7.0M497.06,579.5v7.0M514.02,793.9v-3.6M514.02,579.5v3.6M530.97,793.9v-3.6M530.97,579.5v3.6M547.92,793.9v-3.6M547.92,579.5v3.6M564.88,793.9v-3.6M564.88,579.5v3.6M581.83,793.9v-7.0M581.83,579.5v7.0M598.78,793.9v-3.6M598.78,579.5v3.6M615.74,793.9v-3.6M615.74,579.5v3.6M632.69,793.9v-3.6M632.69,579.5v3.6M649.64,793.9v-3.6M649.64,579.5v3.6M666.59,793.9v-7.0M666.59,579.5v7.0M683.55,793.9v-3.6M683.55,579.5v3.6M412.3,751.02h7.0M700.5,751.02h-7.0M412.3,708.14h3.6M700.5,708.14h-3.6M412.3,665.26h7.0M700.5,665.26h-7.0M412.3,622.38h3.6M700.5,622.38h-3.6" stroke="#484848" stroke-width="1.2" fill="none"/>
<text transform="translate(407.71,812.00) scale(1.080,1)" font-size="14.4">1</text>
<text transform="translate(485.95,812.00) scale(1.080,1)" font-size="14.4">1.5</text>
<text transform="translate(577.47,812.00) scale(1.080,1)" font-size="14.4">2</text>
<text transform="translate(655.71,812.00) scale(1.080,1)" font-size="14.4">2.5</text>
<text transform="translate(403.00,755.30) rotate(-90) scale(1.080,1)" font-size="14.4">4</text>
<text transform="translate(403.00,669.61) rotate(-90) scale(1.080,1)" font-size="14.4">6</text>
<text transform="translate(403.00,583.78) rotate(-90) scale(1.080,1)" font-size="14.4">8</text>
<text transform="translate(497.11,830.10) scale(1.085,1)" font-size="14.4">log(Temperature)</text>
<text transform="translate(374.60,727.67) rotate(-90) scale(1.064,1)" font-size="14.4">log(Density)</text>
<text transform="translate(428.36,742.90) scale(0.901,1)" font-size="14.4">HNC</text>
<text transform="translate(463.55,742.90) scale(1.120,1)" font-size="14.4" letter-spacing="1.364">8–7/4–3</text>
<text transform="translate(462.98,764.40) scale(1.071,1)" font-size="14.4">3e15</text>
<text transform="translate(657.24,657.10) scale(0.920,1)" font-size="14.4">1.1</text>
</svg></body></html>
